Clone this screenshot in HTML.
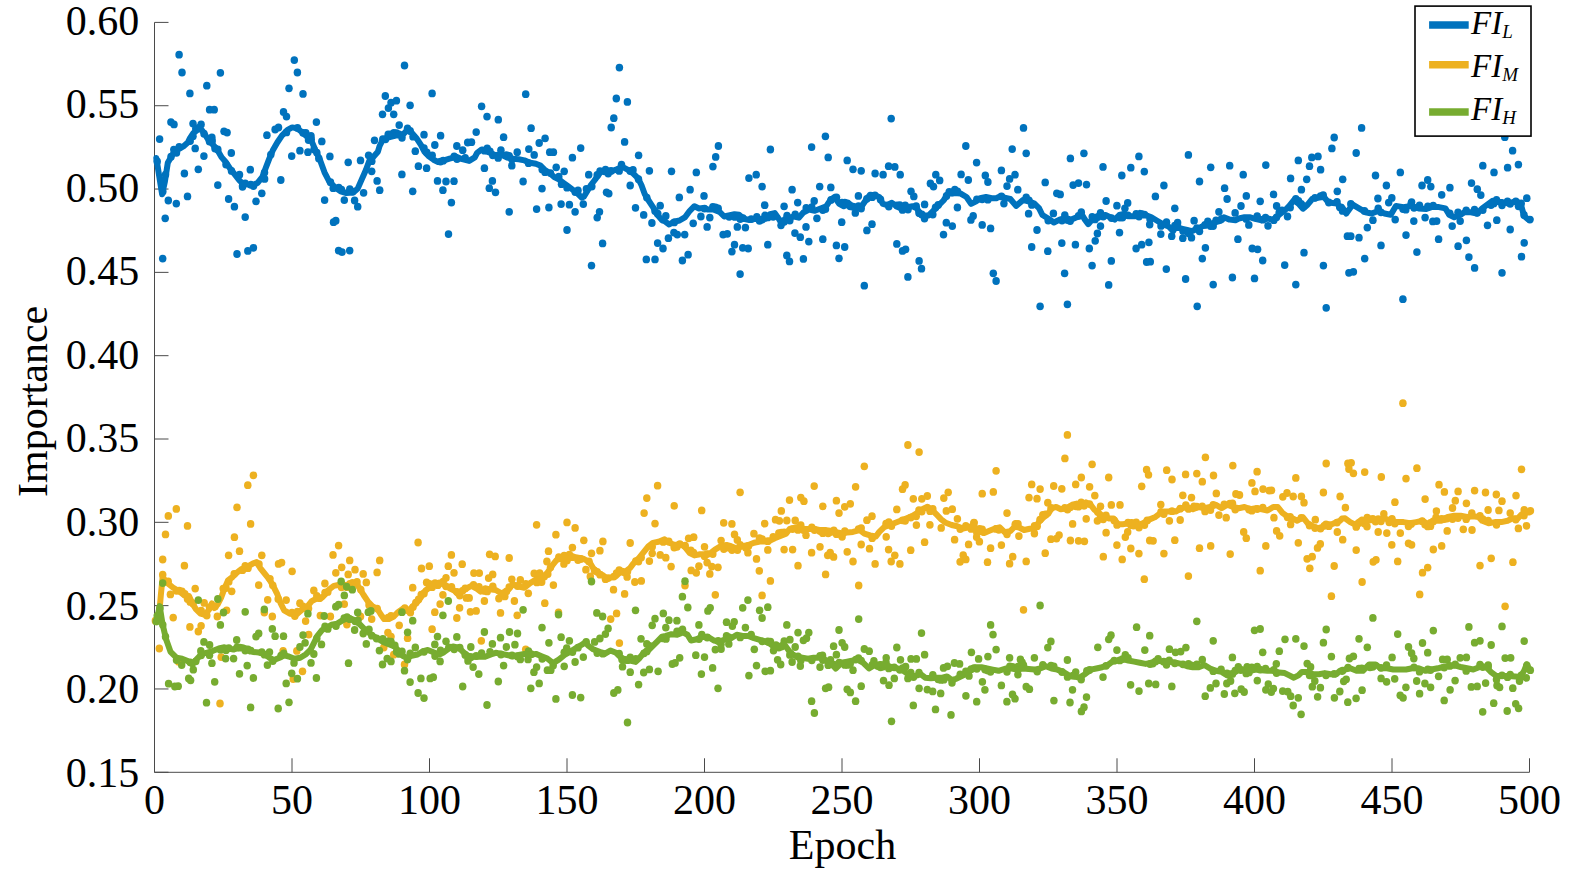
<!DOCTYPE html>
<html><head><meta charset="utf-8"><title>Importance vs Epoch</title>
<style>
html,body{margin:0;padding:0;background:#fff;}
svg{display:block;}
.lbl text{font-family:"Liberation Serif",serif;font-size:42px;fill:#000;}
.lg{font-family:"Liberation Serif",serif;font-style:italic;font-size:33px;fill:#000;}
.sub{font-size:19px;}
</style></head><body>
<svg width="1575" height="872" viewBox="0 0 1575 872">
<rect width="1575" height="872" fill="#fff"/>
<path d="M154.5,22.4 V772.3 H1529.5" fill="none" stroke="#4a4a4a" stroke-width="1" />
<path d="M154.50,772.28 v-14 M292.00,772.28 v-14 M429.50,772.28 v-14 M567.00,772.28 v-14 M704.50,772.28 v-14 M842.00,772.28 v-14 M979.50,772.28 v-14 M1117.00,772.28 v-14 M1254.50,772.28 v-14 M1392.00,772.28 v-14 M1529.50,772.28 v-14 M154.50,772.28 h14 M154.50,688.96 h14 M154.50,605.64 h14 M154.50,522.32 h14 M154.50,439.00 h14 M154.50,355.68 h14 M154.50,272.36 h14 M154.50,189.04 h14 M154.50,105.72 h14 M154.50,22.40 h14" stroke="#4a4a4a" stroke-width="1" fill="none"/>
<g fill="#0072BD"><ellipse cx="179.1" cy="54.7" rx="3.75" ry="3.9"/><ellipse cx="182.0" cy="72.5" rx="3.75" ry="3.9"/><ellipse cx="189.9" cy="93.4" rx="3.75" ry="3.9"/><ellipse cx="206.8" cy="85.7" rx="3.75" ry="3.9"/><ellipse cx="220.4" cy="72.8" rx="3.75" ry="3.9"/><ellipse cx="209.6" cy="109.7" rx="3.75" ry="3.9"/><ellipse cx="214.2" cy="109.7" rx="3.75" ry="3.9"/><ellipse cx="170.9" cy="122.1" rx="3.75" ry="3.9"/><ellipse cx="174.0" cy="124.4" rx="3.75" ry="3.9"/><ellipse cx="159.6" cy="139.1" rx="3.75" ry="3.9"/><ellipse cx="193.0" cy="123.6" rx="3.75" ry="3.9"/><ellipse cx="201.1" cy="124.4" rx="3.75" ry="3.9"/><ellipse cx="195.2" cy="148.4" rx="3.75" ry="3.9"/><ellipse cx="203.9" cy="156.1" rx="3.75" ry="3.9"/><ellipse cx="198.3" cy="169.3" rx="3.75" ry="3.9"/><ellipse cx="184.4" cy="173.5" rx="3.75" ry="3.9"/><ellipse cx="211.9" cy="137.5" rx="3.75" ry="3.9"/><ellipse cx="224.0" cy="131.3" rx="3.75" ry="3.9"/><ellipse cx="227.1" cy="132.6" rx="3.75" ry="3.9"/><ellipse cx="231.3" cy="153.0" rx="3.75" ry="3.9"/><ellipse cx="250.3" cy="169.7" rx="3.75" ry="3.9"/><ellipse cx="239.5" cy="174.7" rx="3.75" ry="3.9"/><ellipse cx="294.3" cy="60.1" rx="3.75" ry="3.9"/><ellipse cx="297.4" cy="72.5" rx="3.75" ry="3.9"/><ellipse cx="289.0" cy="88.3" rx="3.75" ry="3.9"/><ellipse cx="303.0" cy="93.9" rx="3.75" ry="3.9"/><ellipse cx="283.5" cy="112.0" rx="3.75" ry="3.9"/><ellipse cx="286.5" cy="116.6" rx="3.75" ry="3.9"/><ellipse cx="316.4" cy="122.1" rx="3.75" ry="3.9"/><ellipse cx="275.1" cy="129.5" rx="3.75" ry="3.9"/><ellipse cx="278.5" cy="127.5" rx="3.75" ry="3.9"/><ellipse cx="266.9" cy="135.2" rx="3.75" ry="3.9"/><ellipse cx="311.0" cy="136.0" rx="3.75" ry="3.9"/><ellipse cx="321.8" cy="141.4" rx="3.75" ry="3.9"/><ellipse cx="291.7" cy="156.1" rx="3.75" ry="3.9"/><ellipse cx="299.9" cy="150.7" rx="3.75" ry="3.9"/><ellipse cx="307.9" cy="152.2" rx="3.75" ry="3.9"/><ellipse cx="318.8" cy="158.4" rx="3.75" ry="3.9"/><ellipse cx="329.9" cy="156.4" rx="3.75" ry="3.9"/><ellipse cx="348.2" cy="162.3" rx="3.75" ry="3.9"/><ellipse cx="270.8" cy="154.6" rx="3.75" ry="3.9"/><ellipse cx="217.8" cy="185.1" rx="3.75" ry="3.9"/><ellipse cx="280.8" cy="180.0" rx="3.75" ry="3.9"/><ellipse cx="264.6" cy="178.9" rx="3.75" ry="3.9"/><ellipse cx="168.3" cy="200.5" rx="3.75" ry="3.9"/><ellipse cx="176.3" cy="203.6" rx="3.75" ry="3.9"/><ellipse cx="187.5" cy="196.4" rx="3.75" ry="3.9"/><ellipse cx="165.2" cy="218.3" rx="3.75" ry="3.9"/><ellipse cx="228.6" cy="199.0" rx="3.75" ry="3.9"/><ellipse cx="234.4" cy="206.7" rx="3.75" ry="3.9"/><ellipse cx="245.2" cy="217.1" rx="3.75" ry="3.9"/><ellipse cx="256.0" cy="201.3" rx="3.75" ry="3.9"/><ellipse cx="261.8" cy="193.3" rx="3.75" ry="3.9"/><ellipse cx="324.6" cy="200.1" rx="3.75" ry="3.9"/><ellipse cx="344.3" cy="200.1" rx="3.75" ry="3.9"/><ellipse cx="333.5" cy="222.2" rx="3.75" ry="3.9"/><ellipse cx="335.8" cy="220.7" rx="3.75" ry="3.9"/><ellipse cx="162.7" cy="258.6" rx="3.75" ry="3.9"/><ellipse cx="237.0" cy="254.0" rx="3.75" ry="3.9"/><ellipse cx="247.8" cy="250.9" rx="3.75" ry="3.9"/><ellipse cx="253.4" cy="247.8" rx="3.75" ry="3.9"/><ellipse cx="338.6" cy="250.6" rx="3.75" ry="3.9"/><ellipse cx="342.0" cy="252.1" rx="3.75" ry="3.9"/><ellipse cx="349.7" cy="250.6" rx="3.75" ry="3.9"/><ellipse cx="242.6" cy="185.5" rx="3.75" ry="3.9"/><ellipse cx="404.5" cy="65.5" rx="3.75" ry="3.9"/><ellipse cx="432.1" cy="93.4" rx="3.75" ry="3.9"/><ellipse cx="525.7" cy="94.2" rx="3.75" ry="3.9"/><ellipse cx="385.3" cy="96.0" rx="3.75" ry="3.9"/><ellipse cx="391.0" cy="102.7" rx="3.75" ry="3.9"/><ellipse cx="396.4" cy="100.7" rx="3.75" ry="3.9"/><ellipse cx="388.4" cy="108.1" rx="3.75" ry="3.9"/><ellipse cx="382.5" cy="114.3" rx="3.75" ry="3.9"/><ellipse cx="393.7" cy="114.3" rx="3.75" ry="3.9"/><ellipse cx="410.1" cy="105.3" rx="3.75" ry="3.9"/><ellipse cx="481.6" cy="106.3" rx="3.75" ry="3.9"/><ellipse cx="487.0" cy="116.6" rx="3.75" ry="3.9"/><ellipse cx="498.3" cy="119.7" rx="3.75" ry="3.9"/><ellipse cx="399.2" cy="125.1" rx="3.75" ry="3.9"/><ellipse cx="531.1" cy="128.2" rx="3.75" ry="3.9"/><ellipse cx="424.0" cy="134.7" rx="3.75" ry="3.9"/><ellipse cx="440.6" cy="135.7" rx="3.75" ry="3.9"/><ellipse cx="476.2" cy="132.1" rx="3.75" ry="3.9"/><ellipse cx="503.6" cy="137.2" rx="3.75" ry="3.9"/><ellipse cx="374.5" cy="140.3" rx="3.75" ry="3.9"/><ellipse cx="434.8" cy="145.0" rx="3.75" ry="3.9"/><ellipse cx="456.8" cy="146.0" rx="3.75" ry="3.9"/><ellipse cx="462.7" cy="150.2" rx="3.75" ry="3.9"/><ellipse cx="467.7" cy="142.5" rx="3.75" ry="3.9"/><ellipse cx="471.5" cy="142.2" rx="3.75" ry="3.9"/><ellipse cx="545.1" cy="138.3" rx="3.75" ry="3.9"/><ellipse cx="539.2" cy="143.0" rx="3.75" ry="3.9"/><ellipse cx="528.8" cy="149.1" rx="3.75" ry="3.9"/><ellipse cx="534.2" cy="154.9" rx="3.75" ry="3.9"/><ellipse cx="415.3" cy="151.2" rx="3.75" ry="3.9"/><ellipse cx="500.9" cy="150.2" rx="3.75" ry="3.9"/><ellipse cx="517.2" cy="152.2" rx="3.75" ry="3.9"/><ellipse cx="360.5" cy="160.4" rx="3.75" ry="3.9"/><ellipse cx="368.6" cy="155.3" rx="3.75" ry="3.9"/><ellipse cx="418.4" cy="166.2" rx="3.75" ry="3.9"/><ellipse cx="426.6" cy="168.2" rx="3.75" ry="3.9"/><ellipse cx="484.4" cy="168.2" rx="3.75" ry="3.9"/><ellipse cx="511.8" cy="165.7" rx="3.75" ry="3.9"/><ellipse cx="371.7" cy="171.3" rx="3.75" ry="3.9"/><ellipse cx="401.9" cy="174.4" rx="3.75" ry="3.9"/><ellipse cx="549.7" cy="152.2" rx="3.75" ry="3.9"/><ellipse cx="377.1" cy="180.9" rx="3.75" ry="3.9"/><ellipse cx="379.7" cy="190.2" rx="3.75" ry="3.9"/><ellipse cx="363.6" cy="192.8" rx="3.75" ry="3.9"/><ellipse cx="354.6" cy="200.5" rx="3.75" ry="3.9"/><ellipse cx="357.7" cy="206.7" rx="3.75" ry="3.9"/><ellipse cx="412.7" cy="191.3" rx="3.75" ry="3.9"/><ellipse cx="437.5" cy="180.9" rx="3.75" ry="3.9"/><ellipse cx="446.0" cy="181.5" rx="3.75" ry="3.9"/><ellipse cx="454.0" cy="181.2" rx="3.75" ry="3.9"/><ellipse cx="442.9" cy="190.2" rx="3.75" ry="3.9"/><ellipse cx="451.4" cy="202.6" rx="3.75" ry="3.9"/><ellipse cx="492.4" cy="180.9" rx="3.75" ry="3.9"/><ellipse cx="489.3" cy="188.2" rx="3.75" ry="3.9"/><ellipse cx="495.5" cy="192.3" rx="3.75" ry="3.9"/><ellipse cx="523.1" cy="181.5" rx="3.75" ry="3.9"/><ellipse cx="542.0" cy="188.6" rx="3.75" ry="3.9"/><ellipse cx="509.2" cy="211.8" rx="3.75" ry="3.9"/><ellipse cx="536.6" cy="209.1" rx="3.75" ry="3.9"/><ellipse cx="548.9" cy="207.5" rx="3.75" ry="3.9"/><ellipse cx="448.5" cy="234.1" rx="3.75" ry="3.9"/><ellipse cx="619.4" cy="67.6" rx="3.75" ry="3.9"/><ellipse cx="616.3" cy="98.5" rx="3.75" ry="3.9"/><ellipse cx="627.4" cy="101.9" rx="3.75" ry="3.9"/><ellipse cx="613.8" cy="118.2" rx="3.75" ry="3.9"/><ellipse cx="611.2" cy="127.5" rx="3.75" ry="3.9"/><ellipse cx="624.6" cy="141.9" rx="3.75" ry="3.9"/><ellipse cx="580.7" cy="148.1" rx="3.75" ry="3.9"/><ellipse cx="553.4" cy="152.2" rx="3.75" ry="3.9"/><ellipse cx="572.4" cy="157.7" rx="3.75" ry="3.9"/><ellipse cx="556.2" cy="167.3" rx="3.75" ry="3.9"/><ellipse cx="564.2" cy="171.3" rx="3.75" ry="3.9"/><ellipse cx="638.6" cy="155.3" rx="3.75" ry="3.9"/><ellipse cx="718.4" cy="146.0" rx="3.75" ry="3.9"/><ellipse cx="715.7" cy="156.9" rx="3.75" ry="3.9"/><ellipse cx="712.9" cy="166.6" rx="3.75" ry="3.9"/><ellipse cx="649.4" cy="170.8" rx="3.75" ry="3.9"/><ellipse cx="671.5" cy="171.3" rx="3.75" ry="3.9"/><ellipse cx="696.3" cy="172.4" rx="3.75" ry="3.9"/><ellipse cx="621.5" cy="164.6" rx="3.75" ry="3.9"/><ellipse cx="604.5" cy="171.3" rx="3.75" ry="3.9"/><ellipse cx="588.7" cy="174.7" rx="3.75" ry="3.9"/><ellipse cx="561.1" cy="204.1" rx="3.75" ry="3.9"/><ellipse cx="569.4" cy="204.7" rx="3.75" ry="3.9"/><ellipse cx="575.1" cy="211.8" rx="3.75" ry="3.9"/><ellipse cx="583.3" cy="204.1" rx="3.75" ry="3.9"/><ellipse cx="586.4" cy="188.9" rx="3.75" ry="3.9"/><ellipse cx="606.5" cy="192.3" rx="3.75" ry="3.9"/><ellipse cx="608.8" cy="193.6" rx="3.75" ry="3.9"/><ellipse cx="599.5" cy="211.8" rx="3.75" ry="3.9"/><ellipse cx="597.2" cy="217.6" rx="3.75" ry="3.9"/><ellipse cx="567.0" cy="230.0" rx="3.75" ry="3.9"/><ellipse cx="602.6" cy="243.4" rx="3.75" ry="3.9"/><ellipse cx="591.5" cy="265.6" rx="3.75" ry="3.9"/><ellipse cx="630.2" cy="185.5" rx="3.75" ry="3.9"/><ellipse cx="635.5" cy="207.8" rx="3.75" ry="3.9"/><ellipse cx="643.7" cy="214.9" rx="3.75" ry="3.9"/><ellipse cx="651.9" cy="223.0" rx="3.75" ry="3.9"/><ellipse cx="660.2" cy="205.7" rx="3.75" ry="3.9"/><ellipse cx="665.8" cy="216.0" rx="3.75" ry="3.9"/><ellipse cx="679.3" cy="197.4" rx="3.75" ry="3.9"/><ellipse cx="690.1" cy="189.7" rx="3.75" ry="3.9"/><ellipse cx="704.0" cy="195.9" rx="3.75" ry="3.9"/><ellipse cx="693.2" cy="223.3" rx="3.75" ry="3.9"/><ellipse cx="707.1" cy="226.9" rx="3.75" ry="3.9"/><ellipse cx="709.8" cy="217.6" rx="3.75" ry="3.9"/><ellipse cx="700.9" cy="216.5" rx="3.75" ry="3.9"/><ellipse cx="673.9" cy="232.6" rx="3.75" ry="3.9"/><ellipse cx="677.3" cy="234.6" rx="3.75" ry="3.9"/><ellipse cx="684.7" cy="234.6" rx="3.75" ry="3.9"/><ellipse cx="668.4" cy="238.2" rx="3.75" ry="3.9"/><ellipse cx="657.6" cy="243.1" rx="3.75" ry="3.9"/><ellipse cx="663.0" cy="248.5" rx="3.75" ry="3.9"/><ellipse cx="646.3" cy="259.4" rx="3.75" ry="3.9"/><ellipse cx="655.0" cy="259.4" rx="3.75" ry="3.9"/><ellipse cx="682.4" cy="260.5" rx="3.75" ry="3.9"/><ellipse cx="688.1" cy="254.7" rx="3.75" ry="3.9"/><ellipse cx="723.1" cy="234.6" rx="3.75" ry="3.9"/><ellipse cx="727.3" cy="233.8" rx="3.75" ry="3.9"/><ellipse cx="737.3" cy="226.9" rx="3.75" ry="3.9"/><ellipse cx="745.4" cy="227.6" rx="3.75" ry="3.9"/><ellipse cx="734.5" cy="244.7" rx="3.75" ry="3.9"/><ellipse cx="731.9" cy="251.6" rx="3.75" ry="3.9"/><ellipse cx="742.7" cy="247.8" rx="3.75" ry="3.9"/><ellipse cx="748.2" cy="248.5" rx="3.75" ry="3.9"/><ellipse cx="740.1" cy="274.1" rx="3.75" ry="3.9"/><ellipse cx="748.9" cy="178.1" rx="3.75" ry="3.9"/><ellipse cx="891.2" cy="118.6" rx="3.75" ry="3.9"/><ellipse cx="825.4" cy="136.3" rx="3.75" ry="3.9"/><ellipse cx="770.4" cy="149.5" rx="3.75" ry="3.9"/><ellipse cx="811.6" cy="147.1" rx="3.75" ry="3.9"/><ellipse cx="828.2" cy="157.4" rx="3.75" ry="3.9"/><ellipse cx="847.2" cy="160.4" rx="3.75" ry="3.9"/><ellipse cx="853.0" cy="169.3" rx="3.75" ry="3.9"/><ellipse cx="861.2" cy="170.8" rx="3.75" ry="3.9"/><ellipse cx="888.6" cy="166.2" rx="3.75" ry="3.9"/><ellipse cx="894.8" cy="166.9" rx="3.75" ry="3.9"/><ellipse cx="875.1" cy="173.5" rx="3.75" ry="3.9"/><ellipse cx="883.1" cy="174.7" rx="3.75" ry="3.9"/><ellipse cx="756.2" cy="174.7" rx="3.75" ry="3.9"/><ellipse cx="935.8" cy="174.7" rx="3.75" ry="3.9"/><ellipse cx="900.2" cy="174.7" rx="3.75" ry="3.9"/><ellipse cx="762.1" cy="186.6" rx="3.75" ry="3.9"/><ellipse cx="792.1" cy="189.7" rx="3.75" ry="3.9"/><ellipse cx="819.7" cy="186.6" rx="3.75" ry="3.9"/><ellipse cx="830.8" cy="187.4" rx="3.75" ry="3.9"/><ellipse cx="930.4" cy="183.5" rx="3.75" ry="3.9"/><ellipse cx="939.7" cy="180.4" rx="3.75" ry="3.9"/><ellipse cx="933.5" cy="186.6" rx="3.75" ry="3.9"/><ellipse cx="911.0" cy="191.3" rx="3.75" ry="3.9"/><ellipse cx="913.8" cy="196.4" rx="3.75" ry="3.9"/><ellipse cx="858.4" cy="195.9" rx="3.75" ry="3.9"/><ellipse cx="764.7" cy="205.2" rx="3.75" ry="3.9"/><ellipse cx="784.1" cy="206.3" rx="3.75" ry="3.9"/><ellipse cx="797.7" cy="202.6" rx="3.75" ry="3.9"/><ellipse cx="814.2" cy="201.0" rx="3.75" ry="3.9"/><ellipse cx="924.6" cy="204.4" rx="3.75" ry="3.9"/><ellipse cx="816.9" cy="218.3" rx="3.75" ry="3.9"/><ellipse cx="781.0" cy="225.3" rx="3.75" ry="3.9"/><ellipse cx="806.0" cy="226.9" rx="3.75" ry="3.9"/><ellipse cx="841.7" cy="222.2" rx="3.75" ry="3.9"/><ellipse cx="872.0" cy="224.2" rx="3.75" ry="3.9"/><ellipse cx="866.9" cy="230.4" rx="3.75" ry="3.9"/><ellipse cx="946.3" cy="222.7" rx="3.75" ry="3.9"/><ellipse cx="943.5" cy="234.6" rx="3.75" ry="3.9"/><ellipse cx="794.9" cy="233.1" rx="3.75" ry="3.9"/><ellipse cx="800.3" cy="237.2" rx="3.75" ry="3.9"/><ellipse cx="808.8" cy="241.6" rx="3.75" ry="3.9"/><ellipse cx="822.8" cy="239.2" rx="3.75" ry="3.9"/><ellipse cx="767.8" cy="244.7" rx="3.75" ry="3.9"/><ellipse cx="836.4" cy="245.4" rx="3.75" ry="3.9"/><ellipse cx="844.7" cy="247.0" rx="3.75" ry="3.9"/><ellipse cx="896.8" cy="243.9" rx="3.75" ry="3.9"/><ellipse cx="902.5" cy="250.9" rx="3.75" ry="3.9"/><ellipse cx="905.6" cy="249.3" rx="3.75" ry="3.9"/><ellipse cx="786.8" cy="255.5" rx="3.75" ry="3.9"/><ellipse cx="789.5" cy="261.4" rx="3.75" ry="3.9"/><ellipse cx="803.4" cy="258.9" rx="3.75" ry="3.9"/><ellipse cx="839.0" cy="258.3" rx="3.75" ry="3.9"/><ellipse cx="919.1" cy="260.9" rx="3.75" ry="3.9"/><ellipse cx="921.5" cy="268.7" rx="3.75" ry="3.9"/><ellipse cx="907.9" cy="276.9" rx="3.75" ry="3.9"/><ellipse cx="864.3" cy="285.7" rx="3.75" ry="3.9"/><ellipse cx="855.3" cy="212.9" rx="3.75" ry="3.9"/><ellipse cx="1023.5" cy="127.9" rx="3.75" ry="3.9"/><ellipse cx="965.8" cy="146.0" rx="3.75" ry="3.9"/><ellipse cx="1012.2" cy="149.1" rx="3.75" ry="3.9"/><ellipse cx="1026.2" cy="153.3" rx="3.75" ry="3.9"/><ellipse cx="976.6" cy="162.6" rx="3.75" ry="3.9"/><ellipse cx="1001.4" cy="170.4" rx="3.75" ry="3.9"/><ellipse cx="961.1" cy="174.4" rx="3.75" ry="3.9"/><ellipse cx="1015.0" cy="174.7" rx="3.75" ry="3.9"/><ellipse cx="1070.4" cy="158.4" rx="3.75" ry="3.9"/><ellipse cx="1083.9" cy="153.3" rx="3.75" ry="3.9"/><ellipse cx="1103.0" cy="166.9" rx="3.75" ry="3.9"/><ellipse cx="1138.9" cy="156.4" rx="3.75" ry="3.9"/><ellipse cx="1130.8" cy="167.7" rx="3.75" ry="3.9"/><ellipse cx="1144.3" cy="171.6" rx="3.75" ry="3.9"/><ellipse cx="985.3" cy="175.5" rx="3.75" ry="3.9"/><ellipse cx="1121.8" cy="175.5" rx="3.75" ry="3.9"/><ellipse cx="968.3" cy="180.0" rx="3.75" ry="3.9"/><ellipse cx="987.9" cy="182.0" rx="3.75" ry="3.9"/><ellipse cx="1009.6" cy="178.9" rx="3.75" ry="3.9"/><ellipse cx="1007.0" cy="186.1" rx="3.75" ry="3.9"/><ellipse cx="1017.8" cy="189.7" rx="3.75" ry="3.9"/><ellipse cx="1045.2" cy="182.4" rx="3.75" ry="3.9"/><ellipse cx="1073.1" cy="185.1" rx="3.75" ry="3.9"/><ellipse cx="1078.5" cy="183.1" rx="3.75" ry="3.9"/><ellipse cx="1086.5" cy="184.6" rx="3.75" ry="3.9"/><ellipse cx="1056.8" cy="193.3" rx="3.75" ry="3.9"/><ellipse cx="1060.2" cy="194.4" rx="3.75" ry="3.9"/><ellipse cx="1106.1" cy="201.0" rx="3.75" ry="3.9"/><ellipse cx="1116.9" cy="205.7" rx="3.75" ry="3.9"/><ellipse cx="1127.7" cy="202.9" rx="3.75" ry="3.9"/><ellipse cx="1124.9" cy="208.3" rx="3.75" ry="3.9"/><ellipse cx="957.4" cy="207.5" rx="3.75" ry="3.9"/><ellipse cx="1028.6" cy="213.7" rx="3.75" ry="3.9"/><ellipse cx="973.2" cy="216.0" rx="3.75" ry="3.9"/><ellipse cx="970.9" cy="219.9" rx="3.75" ry="3.9"/><ellipse cx="982.2" cy="224.9" rx="3.75" ry="3.9"/><ellipse cx="990.6" cy="228.4" rx="3.75" ry="3.9"/><ellipse cx="952.3" cy="226.1" rx="3.75" ry="3.9"/><ellipse cx="1037.0" cy="230.0" rx="3.75" ry="3.9"/><ellipse cx="1100.5" cy="226.1" rx="3.75" ry="3.9"/><ellipse cx="1097.4" cy="233.5" rx="3.75" ry="3.9"/><ellipse cx="1095.2" cy="240.8" rx="3.75" ry="3.9"/><ellipse cx="1119.5" cy="232.6" rx="3.75" ry="3.9"/><ellipse cx="1149.7" cy="224.5" rx="3.75" ry="3.9"/><ellipse cx="1031.7" cy="247.0" rx="3.75" ry="3.9"/><ellipse cx="1047.8" cy="251.2" rx="3.75" ry="3.9"/><ellipse cx="1061.8" cy="243.1" rx="3.75" ry="3.9"/><ellipse cx="1075.4" cy="244.7" rx="3.75" ry="3.9"/><ellipse cx="1089.3" cy="248.5" rx="3.75" ry="3.9"/><ellipse cx="1141.7" cy="244.7" rx="3.75" ry="3.9"/><ellipse cx="1136.1" cy="248.5" rx="3.75" ry="3.9"/><ellipse cx="1148.9" cy="242.3" rx="3.75" ry="3.9"/><ellipse cx="1111.3" cy="260.9" rx="3.75" ry="3.9"/><ellipse cx="1146.6" cy="262.0" rx="3.75" ry="3.9"/><ellipse cx="1092.1" cy="265.6" rx="3.75" ry="3.9"/><ellipse cx="1064.6" cy="273.3" rx="3.75" ry="3.9"/><ellipse cx="993.3" cy="273.3" rx="3.75" ry="3.9"/><ellipse cx="996.1" cy="281.0" rx="3.75" ry="3.9"/><ellipse cx="1108.7" cy="284.9" rx="3.75" ry="3.9"/><ellipse cx="1040.1" cy="306.3" rx="3.75" ry="3.9"/><ellipse cx="1067.4" cy="304.3" rx="3.75" ry="3.9"/><ellipse cx="1003.9" cy="203.6" rx="3.75" ry="3.9"/><ellipse cx="1053.4" cy="213.4" rx="3.75" ry="3.9"/><ellipse cx="1081.3" cy="212.2" rx="3.75" ry="3.9"/><ellipse cx="1188.4" cy="154.9" rx="3.75" ry="3.9"/><ellipse cx="1210.7" cy="167.3" rx="3.75" ry="3.9"/><ellipse cx="1229.7" cy="165.7" rx="3.75" ry="3.9"/><ellipse cx="1265.8" cy="165.1" rx="3.75" ry="3.9"/><ellipse cx="1243.2" cy="174.7" rx="3.75" ry="3.9"/><ellipse cx="1298.3" cy="160.4" rx="3.75" ry="3.9"/><ellipse cx="1311.8" cy="157.4" rx="3.75" ry="3.9"/><ellipse cx="1318.0" cy="156.4" rx="3.75" ry="3.9"/><ellipse cx="1309.5" cy="166.2" rx="3.75" ry="3.9"/><ellipse cx="1320.6" cy="169.7" rx="3.75" ry="3.9"/><ellipse cx="1331.9" cy="148.4" rx="3.75" ry="3.9"/><ellipse cx="1334.2" cy="137.5" rx="3.75" ry="3.9"/><ellipse cx="1163.9" cy="185.5" rx="3.75" ry="3.9"/><ellipse cx="1155.4" cy="196.4" rx="3.75" ry="3.9"/><ellipse cx="1199.5" cy="181.5" rx="3.75" ry="3.9"/><ellipse cx="1224.6" cy="188.2" rx="3.75" ry="3.9"/><ellipse cx="1227.1" cy="199.0" rx="3.75" ry="3.9"/><ellipse cx="1246.3" cy="195.9" rx="3.75" ry="3.9"/><ellipse cx="1241.0" cy="206.0" rx="3.75" ry="3.9"/><ellipse cx="1260.2" cy="201.3" rx="3.75" ry="3.9"/><ellipse cx="1273.5" cy="194.4" rx="3.75" ry="3.9"/><ellipse cx="1276.6" cy="206.0" rx="3.75" ry="3.9"/><ellipse cx="1290.6" cy="178.4" rx="3.75" ry="3.9"/><ellipse cx="1306.7" cy="179.3" rx="3.75" ry="3.9"/><ellipse cx="1301.4" cy="189.7" rx="3.75" ry="3.9"/><ellipse cx="1337.3" cy="191.3" rx="3.75" ry="3.9"/><ellipse cx="1342.7" cy="179.3" rx="3.75" ry="3.9"/><ellipse cx="1174.8" cy="208.3" rx="3.75" ry="3.9"/><ellipse cx="1218.9" cy="211.8" rx="3.75" ry="3.9"/><ellipse cx="1235.1" cy="212.9" rx="3.75" ry="3.9"/><ellipse cx="1194.1" cy="220.7" rx="3.75" ry="3.9"/><ellipse cx="1177.6" cy="222.7" rx="3.75" ry="3.9"/><ellipse cx="1287.5" cy="216.5" rx="3.75" ry="3.9"/><ellipse cx="1160.8" cy="234.1" rx="3.75" ry="3.9"/><ellipse cx="1171.7" cy="236.2" rx="3.75" ry="3.9"/><ellipse cx="1182.8" cy="238.2" rx="3.75" ry="3.9"/><ellipse cx="1191.5" cy="237.7" rx="3.75" ry="3.9"/><ellipse cx="1237.9" cy="239.2" rx="3.75" ry="3.9"/><ellipse cx="1248.8" cy="224.9" rx="3.75" ry="3.9"/><ellipse cx="1268.0" cy="225.8" rx="3.75" ry="3.9"/><ellipse cx="1347.4" cy="236.2" rx="3.75" ry="3.9"/><ellipse cx="1205.4" cy="247.8" rx="3.75" ry="3.9"/><ellipse cx="1202.3" cy="258.6" rx="3.75" ry="3.9"/><ellipse cx="1252.2" cy="248.5" rx="3.75" ry="3.9"/><ellipse cx="1257.6" cy="249.3" rx="3.75" ry="3.9"/><ellipse cx="1262.7" cy="260.5" rx="3.75" ry="3.9"/><ellipse cx="1304.0" cy="252.7" rx="3.75" ry="3.9"/><ellipse cx="1284.7" cy="265.1" rx="3.75" ry="3.9"/><ellipse cx="1323.4" cy="265.6" rx="3.75" ry="3.9"/><ellipse cx="1348.9" cy="272.8" rx="3.75" ry="3.9"/><ellipse cx="1166.3" cy="269.1" rx="3.75" ry="3.9"/><ellipse cx="1185.6" cy="279.0" rx="3.75" ry="3.9"/><ellipse cx="1213.2" cy="284.6" rx="3.75" ry="3.9"/><ellipse cx="1232.4" cy="277.5" rx="3.75" ry="3.9"/><ellipse cx="1254.5" cy="278.4" rx="3.75" ry="3.9"/><ellipse cx="1295.8" cy="284.6" rx="3.75" ry="3.9"/><ellipse cx="1197.2" cy="306.3" rx="3.75" ry="3.9"/><ellipse cx="1326.2" cy="307.8" rx="3.75" ry="3.9"/><ellipse cx="1150.3" cy="261.7" rx="3.75" ry="3.9"/><ellipse cx="1361.6" cy="127.9" rx="3.75" ry="3.9"/><ellipse cx="1356.2" cy="153.0" rx="3.75" ry="3.9"/><ellipse cx="1400.3" cy="172.4" rx="3.75" ry="3.9"/><ellipse cx="1504.8" cy="137.2" rx="3.75" ry="3.9"/><ellipse cx="1512.6" cy="150.7" rx="3.75" ry="3.9"/><ellipse cx="1482.8" cy="165.7" rx="3.75" ry="3.9"/><ellipse cx="1494.0" cy="172.4" rx="3.75" ry="3.9"/><ellipse cx="1507.6" cy="167.7" rx="3.75" ry="3.9"/><ellipse cx="1518.4" cy="164.6" rx="3.75" ry="3.9"/><ellipse cx="1375.5" cy="175.5" rx="3.75" ry="3.9"/><ellipse cx="1386.4" cy="185.5" rx="3.75" ry="3.9"/><ellipse cx="1422.0" cy="185.5" rx="3.75" ry="3.9"/><ellipse cx="1427.7" cy="180.0" rx="3.75" ry="3.9"/><ellipse cx="1430.8" cy="186.6" rx="3.75" ry="3.9"/><ellipse cx="1449.9" cy="187.7" rx="3.75" ry="3.9"/><ellipse cx="1441.7" cy="194.8" rx="3.75" ry="3.9"/><ellipse cx="1471.5" cy="183.1" rx="3.75" ry="3.9"/><ellipse cx="1477.3" cy="189.2" rx="3.75" ry="3.9"/><ellipse cx="1480.8" cy="195.1" rx="3.75" ry="3.9"/><ellipse cx="1526.8" cy="198.2" rx="3.75" ry="3.9"/><ellipse cx="1377.9" cy="198.5" rx="3.75" ry="3.9"/><ellipse cx="1391.8" cy="197.9" rx="3.75" ry="3.9"/><ellipse cx="1388.7" cy="202.6" rx="3.75" ry="3.9"/><ellipse cx="1411.6" cy="202.1" rx="3.75" ry="3.9"/><ellipse cx="1372.9" cy="220.2" rx="3.75" ry="3.9"/><ellipse cx="1395.2" cy="219.6" rx="3.75" ry="3.9"/><ellipse cx="1413.8" cy="221.1" rx="3.75" ry="3.9"/><ellipse cx="1425.1" cy="217.6" rx="3.75" ry="3.9"/><ellipse cx="1432.8" cy="221.4" rx="3.75" ry="3.9"/><ellipse cx="1436.7" cy="221.1" rx="3.75" ry="3.9"/><ellipse cx="1460.2" cy="221.1" rx="3.75" ry="3.9"/><ellipse cx="1452.2" cy="226.1" rx="3.75" ry="3.9"/><ellipse cx="1487.5" cy="225.3" rx="3.75" ry="3.9"/><ellipse cx="1496.8" cy="220.2" rx="3.75" ry="3.9"/><ellipse cx="1510.2" cy="229.5" rx="3.75" ry="3.9"/><ellipse cx="1367.3" cy="227.6" rx="3.75" ry="3.9"/><ellipse cx="1350.8" cy="236.2" rx="3.75" ry="3.9"/><ellipse cx="1359.0" cy="237.7" rx="3.75" ry="3.9"/><ellipse cx="1406.0" cy="235.1" rx="3.75" ry="3.9"/><ellipse cx="1381.0" cy="245.4" rx="3.75" ry="3.9"/><ellipse cx="1438.6" cy="239.2" rx="3.75" ry="3.9"/><ellipse cx="1466.4" cy="240.3" rx="3.75" ry="3.9"/><ellipse cx="1458.1" cy="246.2" rx="3.75" ry="3.9"/><ellipse cx="1524.2" cy="242.8" rx="3.75" ry="3.9"/><ellipse cx="1416.9" cy="252.1" rx="3.75" ry="3.9"/><ellipse cx="1364.7" cy="258.6" rx="3.75" ry="3.9"/><ellipse cx="1468.9" cy="257.1" rx="3.75" ry="3.9"/><ellipse cx="1521.5" cy="256.7" rx="3.75" ry="3.9"/><ellipse cx="1474.6" cy="267.9" rx="3.75" ry="3.9"/><ellipse cx="1502.0" cy="272.8" rx="3.75" ry="3.9"/><ellipse cx="1353.4" cy="271.8" rx="3.75" ry="3.9"/><ellipse cx="1402.9" cy="299.2" rx="3.75" ry="3.9"/><ellipse cx="1529.9" cy="219.6" rx="3.75" ry="3.9"/><ellipse cx="157.2" cy="161.5" rx="3.75" ry="3.9"/><ellipse cx="162.8" cy="191.4" rx="3.75" ry="3.9"/><ellipse cx="165.5" cy="174.6" rx="3.75" ry="3.9"/><ellipse cx="171.0" cy="156.7" rx="3.75" ry="3.9"/><ellipse cx="173.8" cy="149.6" rx="3.75" ry="3.9"/><ellipse cx="176.5" cy="152.8" rx="3.75" ry="3.9"/><ellipse cx="179.2" cy="147.0" rx="3.75" ry="3.9"/><ellipse cx="190.2" cy="141.0" rx="3.75" ry="3.9"/><ellipse cx="193.0" cy="136.2" rx="3.75" ry="3.9"/><ellipse cx="195.8" cy="128.7" rx="3.75" ry="3.9"/><ellipse cx="198.5" cy="128.0" rx="3.75" ry="3.9"/><ellipse cx="204.0" cy="133.7" rx="3.75" ry="3.9"/><ellipse cx="209.5" cy="141.5" rx="3.75" ry="3.9"/><ellipse cx="212.2" cy="140.9" rx="3.75" ry="3.9"/><ellipse cx="215.0" cy="148.5" rx="3.75" ry="3.9"/><ellipse cx="217.8" cy="149.4" rx="3.75" ry="3.9"/><ellipse cx="226.0" cy="164.5" rx="3.75" ry="3.9"/><ellipse cx="231.5" cy="170.9" rx="3.75" ry="3.9"/><ellipse cx="242.5" cy="186.8" rx="3.75" ry="3.9"/><ellipse cx="245.2" cy="183.5" rx="3.75" ry="3.9"/><ellipse cx="250.8" cy="184.7" rx="3.75" ry="3.9"/><ellipse cx="253.5" cy="186.0" rx="3.75" ry="3.9"/><ellipse cx="264.5" cy="172.6" rx="3.75" ry="3.9"/><ellipse cx="286.5" cy="132.4" rx="3.75" ry="3.9"/><ellipse cx="297.5" cy="127.9" rx="3.75" ry="3.9"/><ellipse cx="303.0" cy="132.8" rx="3.75" ry="3.9"/><ellipse cx="305.8" cy="132.9" rx="3.75" ry="3.9"/><ellipse cx="308.5" cy="140.1" rx="3.75" ry="3.9"/><ellipse cx="311.2" cy="139.2" rx="3.75" ry="3.9"/><ellipse cx="314.0" cy="149.4" rx="3.75" ry="3.9"/><ellipse cx="316.8" cy="152.6" rx="3.75" ry="3.9"/><ellipse cx="330.5" cy="182.2" rx="3.75" ry="3.9"/><ellipse cx="333.2" cy="188.2" rx="3.75" ry="3.9"/><ellipse cx="338.8" cy="187.7" rx="3.75" ry="3.9"/><ellipse cx="341.5" cy="189.7" rx="3.75" ry="3.9"/><ellipse cx="349.8" cy="189.2" rx="3.75" ry="3.9"/><ellipse cx="352.5" cy="191.6" rx="3.75" ry="3.9"/><ellipse cx="371.8" cy="161.2" rx="3.75" ry="3.9"/><ellipse cx="382.8" cy="139.1" rx="3.75" ry="3.9"/><ellipse cx="385.5" cy="139.3" rx="3.75" ry="3.9"/><ellipse cx="388.2" cy="134.5" rx="3.75" ry="3.9"/><ellipse cx="391.0" cy="134.5" rx="3.75" ry="3.9"/><ellipse cx="393.8" cy="133.0" rx="3.75" ry="3.9"/><ellipse cx="396.5" cy="133.1" rx="3.75" ry="3.9"/><ellipse cx="399.2" cy="134.4" rx="3.75" ry="3.9"/><ellipse cx="402.0" cy="137.8" rx="3.75" ry="3.9"/><ellipse cx="407.5" cy="128.4" rx="3.75" ry="3.9"/><ellipse cx="410.2" cy="130.9" rx="3.75" ry="3.9"/><ellipse cx="413.0" cy="136.7" rx="3.75" ry="3.9"/><ellipse cx="424.0" cy="148.1" rx="3.75" ry="3.9"/><ellipse cx="426.8" cy="152.5" rx="3.75" ry="3.9"/><ellipse cx="432.2" cy="155.4" rx="3.75" ry="3.9"/><ellipse cx="440.5" cy="161.6" rx="3.75" ry="3.9"/><ellipse cx="443.2" cy="160.7" rx="3.75" ry="3.9"/><ellipse cx="454.2" cy="156.5" rx="3.75" ry="3.9"/><ellipse cx="457.0" cy="159.0" rx="3.75" ry="3.9"/><ellipse cx="465.2" cy="158.0" rx="3.75" ry="3.9"/><ellipse cx="484.5" cy="150.7" rx="3.75" ry="3.9"/><ellipse cx="487.2" cy="148.3" rx="3.75" ry="3.9"/><ellipse cx="490.0" cy="151.3" rx="3.75" ry="3.9"/><ellipse cx="492.8" cy="155.3" rx="3.75" ry="3.9"/><ellipse cx="498.2" cy="157.9" rx="3.75" ry="3.9"/><ellipse cx="506.5" cy="155.2" rx="3.75" ry="3.9"/><ellipse cx="509.2" cy="155.8" rx="3.75" ry="3.9"/><ellipse cx="512.0" cy="159.4" rx="3.75" ry="3.9"/><ellipse cx="528.5" cy="163.2" rx="3.75" ry="3.9"/><ellipse cx="542.2" cy="169.4" rx="3.75" ry="3.9"/><ellipse cx="545.0" cy="172.2" rx="3.75" ry="3.9"/><ellipse cx="550.5" cy="173.1" rx="3.75" ry="3.9"/><ellipse cx="558.8" cy="176.7" rx="3.75" ry="3.9"/><ellipse cx="561.5" cy="184.2" rx="3.75" ry="3.9"/><ellipse cx="567.0" cy="187.7" rx="3.75" ry="3.9"/><ellipse cx="575.2" cy="192.0" rx="3.75" ry="3.9"/><ellipse cx="578.0" cy="190.5" rx="3.75" ry="3.9"/><ellipse cx="591.8" cy="186.5" rx="3.75" ry="3.9"/><ellipse cx="597.2" cy="174.9" rx="3.75" ry="3.9"/><ellipse cx="600.0" cy="171.1" rx="3.75" ry="3.9"/><ellipse cx="605.5" cy="169.6" rx="3.75" ry="3.9"/><ellipse cx="608.2" cy="173.5" rx="3.75" ry="3.9"/><ellipse cx="611.0" cy="170.9" rx="3.75" ry="3.9"/><ellipse cx="619.2" cy="170.9" rx="3.75" ry="3.9"/><ellipse cx="630.2" cy="171.0" rx="3.75" ry="3.9"/><ellipse cx="633.0" cy="169.9" rx="3.75" ry="3.9"/><ellipse cx="638.5" cy="179.2" rx="3.75" ry="3.9"/><ellipse cx="646.8" cy="197.6" rx="3.75" ry="3.9"/><ellipse cx="655.0" cy="211.1" rx="3.75" ry="3.9"/><ellipse cx="657.8" cy="213.7" rx="3.75" ry="3.9"/><ellipse cx="674.2" cy="222.4" rx="3.75" ry="3.9"/><ellipse cx="704.5" cy="208.6" rx="3.75" ry="3.9"/><ellipse cx="712.8" cy="207.0" rx="3.75" ry="3.9"/><ellipse cx="715.5" cy="207.3" rx="3.75" ry="3.9"/><ellipse cx="718.2" cy="208.4" rx="3.75" ry="3.9"/><ellipse cx="729.2" cy="216.8" rx="3.75" ry="3.9"/><ellipse cx="734.8" cy="216.9" rx="3.75" ry="3.9"/><ellipse cx="740.2" cy="219.0" rx="3.75" ry="3.9"/><ellipse cx="743.0" cy="218.1" rx="3.75" ry="3.9"/><ellipse cx="751.2" cy="219.1" rx="3.75" ry="3.9"/><ellipse cx="756.8" cy="216.8" rx="3.75" ry="3.9"/><ellipse cx="759.5" cy="220.8" rx="3.75" ry="3.9"/><ellipse cx="762.2" cy="219.6" rx="3.75" ry="3.9"/><ellipse cx="765.0" cy="215.5" rx="3.75" ry="3.9"/><ellipse cx="767.8" cy="217.4" rx="3.75" ry="3.9"/><ellipse cx="773.2" cy="216.8" rx="3.75" ry="3.9"/><ellipse cx="781.5" cy="221.6" rx="3.75" ry="3.9"/><ellipse cx="784.2" cy="221.8" rx="3.75" ry="3.9"/><ellipse cx="787.0" cy="215.7" rx="3.75" ry="3.9"/><ellipse cx="789.8" cy="220.5" rx="3.75" ry="3.9"/><ellipse cx="795.2" cy="214.3" rx="3.75" ry="3.9"/><ellipse cx="806.2" cy="207.9" rx="3.75" ry="3.9"/><ellipse cx="811.8" cy="207.2" rx="3.75" ry="3.9"/><ellipse cx="822.8" cy="210.1" rx="3.75" ry="3.9"/><ellipse cx="825.5" cy="209.1" rx="3.75" ry="3.9"/><ellipse cx="831.0" cy="199.9" rx="3.75" ry="3.9"/><ellipse cx="836.5" cy="197.3" rx="3.75" ry="3.9"/><ellipse cx="842.0" cy="202.6" rx="3.75" ry="3.9"/><ellipse cx="844.8" cy="202.7" rx="3.75" ry="3.9"/><ellipse cx="847.5" cy="203.4" rx="3.75" ry="3.9"/><ellipse cx="850.2" cy="206.3" rx="3.75" ry="3.9"/><ellipse cx="853.0" cy="206.7" rx="3.75" ry="3.9"/><ellipse cx="855.8" cy="207.3" rx="3.75" ry="3.9"/><ellipse cx="858.5" cy="206.1" rx="3.75" ry="3.9"/><ellipse cx="861.2" cy="208.6" rx="3.75" ry="3.9"/><ellipse cx="866.8" cy="198.8" rx="3.75" ry="3.9"/><ellipse cx="872.2" cy="197.2" rx="3.75" ry="3.9"/><ellipse cx="875.0" cy="195.4" rx="3.75" ry="3.9"/><ellipse cx="880.5" cy="199.4" rx="3.75" ry="3.9"/><ellipse cx="888.8" cy="206.6" rx="3.75" ry="3.9"/><ellipse cx="897.0" cy="205.4" rx="3.75" ry="3.9"/><ellipse cx="899.8" cy="205.2" rx="3.75" ry="3.9"/><ellipse cx="902.5" cy="209.9" rx="3.75" ry="3.9"/><ellipse cx="905.2" cy="205.3" rx="3.75" ry="3.9"/><ellipse cx="908.0" cy="209.5" rx="3.75" ry="3.9"/><ellipse cx="916.2" cy="206.2" rx="3.75" ry="3.9"/><ellipse cx="919.0" cy="212.9" rx="3.75" ry="3.9"/><ellipse cx="921.8" cy="214.4" rx="3.75" ry="3.9"/><ellipse cx="924.5" cy="218.6" rx="3.75" ry="3.9"/><ellipse cx="932.8" cy="214.5" rx="3.75" ry="3.9"/><ellipse cx="935.5" cy="207.5" rx="3.75" ry="3.9"/><ellipse cx="938.2" cy="204.9" rx="3.75" ry="3.9"/><ellipse cx="946.5" cy="196.0" rx="3.75" ry="3.9"/><ellipse cx="949.2" cy="191.8" rx="3.75" ry="3.9"/><ellipse cx="952.0" cy="192.5" rx="3.75" ry="3.9"/><ellipse cx="954.8" cy="189.7" rx="3.75" ry="3.9"/><ellipse cx="957.5" cy="191.4" rx="3.75" ry="3.9"/><ellipse cx="976.8" cy="199.5" rx="3.75" ry="3.9"/><ellipse cx="982.2" cy="199.3" rx="3.75" ry="3.9"/><ellipse cx="987.8" cy="199.7" rx="3.75" ry="3.9"/><ellipse cx="1001.5" cy="196.4" rx="3.75" ry="3.9"/><ellipse cx="1026.2" cy="197.5" rx="3.75" ry="3.9"/><ellipse cx="1029.0" cy="200.4" rx="3.75" ry="3.9"/><ellipse cx="1031.8" cy="204.9" rx="3.75" ry="3.9"/><ellipse cx="1048.2" cy="220.6" rx="3.75" ry="3.9"/><ellipse cx="1062.0" cy="220.6" rx="3.75" ry="3.9"/><ellipse cx="1064.8" cy="215.1" rx="3.75" ry="3.9"/><ellipse cx="1067.5" cy="220.1" rx="3.75" ry="3.9"/><ellipse cx="1070.2" cy="221.0" rx="3.75" ry="3.9"/><ellipse cx="1078.5" cy="215.9" rx="3.75" ry="3.9"/><ellipse cx="1092.2" cy="216.8" rx="3.75" ry="3.9"/><ellipse cx="1095.0" cy="219.4" rx="3.75" ry="3.9"/><ellipse cx="1097.8" cy="217.0" rx="3.75" ry="3.9"/><ellipse cx="1100.5" cy="212.8" rx="3.75" ry="3.9"/><ellipse cx="1103.2" cy="216.6" rx="3.75" ry="3.9"/><ellipse cx="1111.5" cy="218.1" rx="3.75" ry="3.9"/><ellipse cx="1119.8" cy="217.6" rx="3.75" ry="3.9"/><ellipse cx="1122.5" cy="217.6" rx="3.75" ry="3.9"/><ellipse cx="1128.0" cy="215.3" rx="3.75" ry="3.9"/><ellipse cx="1136.2" cy="213.9" rx="3.75" ry="3.9"/><ellipse cx="1139.0" cy="216.6" rx="3.75" ry="3.9"/><ellipse cx="1141.8" cy="214.1" rx="3.75" ry="3.9"/><ellipse cx="1144.5" cy="214.7" rx="3.75" ry="3.9"/><ellipse cx="1150.0" cy="219.0" rx="3.75" ry="3.9"/><ellipse cx="1161.0" cy="225.9" rx="3.75" ry="3.9"/><ellipse cx="1166.5" cy="222.2" rx="3.75" ry="3.9"/><ellipse cx="1174.8" cy="225.7" rx="3.75" ry="3.9"/><ellipse cx="1177.5" cy="225.9" rx="3.75" ry="3.9"/><ellipse cx="1183.0" cy="230.9" rx="3.75" ry="3.9"/><ellipse cx="1188.5" cy="233.3" rx="3.75" ry="3.9"/><ellipse cx="1196.8" cy="228.2" rx="3.75" ry="3.9"/><ellipse cx="1199.5" cy="231.3" rx="3.75" ry="3.9"/><ellipse cx="1205.0" cy="224.9" rx="3.75" ry="3.9"/><ellipse cx="1207.8" cy="221.4" rx="3.75" ry="3.9"/><ellipse cx="1210.5" cy="226.1" rx="3.75" ry="3.9"/><ellipse cx="1213.2" cy="226.0" rx="3.75" ry="3.9"/><ellipse cx="1216.0" cy="220.5" rx="3.75" ry="3.9"/><ellipse cx="1221.5" cy="218.9" rx="3.75" ry="3.9"/><ellipse cx="1246.2" cy="218.9" rx="3.75" ry="3.9"/><ellipse cx="1257.2" cy="216.2" rx="3.75" ry="3.9"/><ellipse cx="1262.8" cy="219.7" rx="3.75" ry="3.9"/><ellipse cx="1265.5" cy="217.7" rx="3.75" ry="3.9"/><ellipse cx="1273.8" cy="220.2" rx="3.75" ry="3.9"/><ellipse cx="1276.5" cy="217.3" rx="3.75" ry="3.9"/><ellipse cx="1279.2" cy="212.4" rx="3.75" ry="3.9"/><ellipse cx="1282.0" cy="210.5" rx="3.75" ry="3.9"/><ellipse cx="1290.2" cy="207.5" rx="3.75" ry="3.9"/><ellipse cx="1295.8" cy="199.0" rx="3.75" ry="3.9"/><ellipse cx="1298.5" cy="200.8" rx="3.75" ry="3.9"/><ellipse cx="1301.2" cy="203.9" rx="3.75" ry="3.9"/><ellipse cx="1304.0" cy="206.1" rx="3.75" ry="3.9"/><ellipse cx="1315.0" cy="197.8" rx="3.75" ry="3.9"/><ellipse cx="1320.5" cy="196.2" rx="3.75" ry="3.9"/><ellipse cx="1323.2" cy="195.2" rx="3.75" ry="3.9"/><ellipse cx="1328.8" cy="202.5" rx="3.75" ry="3.9"/><ellipse cx="1337.0" cy="201.9" rx="3.75" ry="3.9"/><ellipse cx="1339.8" cy="207.2" rx="3.75" ry="3.9"/><ellipse cx="1342.5" cy="210.9" rx="3.75" ry="3.9"/><ellipse cx="1350.8" cy="204.0" rx="3.75" ry="3.9"/><ellipse cx="1364.5" cy="210.9" rx="3.75" ry="3.9"/><ellipse cx="1378.2" cy="208.3" rx="3.75" ry="3.9"/><ellipse cx="1381.0" cy="212.3" rx="3.75" ry="3.9"/><ellipse cx="1403.0" cy="209.0" rx="3.75" ry="3.9"/><ellipse cx="1405.8" cy="209.7" rx="3.75" ry="3.9"/><ellipse cx="1411.2" cy="203.3" rx="3.75" ry="3.9"/><ellipse cx="1414.0" cy="207.8" rx="3.75" ry="3.9"/><ellipse cx="1419.5" cy="205.5" rx="3.75" ry="3.9"/><ellipse cx="1427.8" cy="206.5" rx="3.75" ry="3.9"/><ellipse cx="1433.2" cy="205.7" rx="3.75" ry="3.9"/><ellipse cx="1449.8" cy="213.3" rx="3.75" ry="3.9"/><ellipse cx="1458.0" cy="212.5" rx="3.75" ry="3.9"/><ellipse cx="1466.2" cy="210.5" rx="3.75" ry="3.9"/><ellipse cx="1474.5" cy="209.7" rx="3.75" ry="3.9"/><ellipse cx="1477.2" cy="212.8" rx="3.75" ry="3.9"/><ellipse cx="1482.8" cy="210.1" rx="3.75" ry="3.9"/><ellipse cx="1491.0" cy="205.1" rx="3.75" ry="3.9"/><ellipse cx="1493.8" cy="203.4" rx="3.75" ry="3.9"/><ellipse cx="1496.5" cy="199.9" rx="3.75" ry="3.9"/><ellipse cx="1502.0" cy="205.3" rx="3.75" ry="3.9"/><ellipse cx="1507.5" cy="201.3" rx="3.75" ry="3.9"/><ellipse cx="1510.2" cy="203.8" rx="3.75" ry="3.9"/><ellipse cx="1515.8" cy="201.4" rx="3.75" ry="3.9"/><ellipse cx="1518.5" cy="206.3" rx="3.75" ry="3.9"/><ellipse cx="1521.2" cy="203.5" rx="3.75" ry="3.9"/><ellipse cx="1524.0" cy="214.9" rx="3.75" ry="3.9"/></g>
<path d="M156.3,158.0 L158.6,172.3 L162.1,194.3 L164.9,181.5 L167.8,162.7 L174.0,152.0 L183.3,146.5 L187.8,142.5 L190.1,137.9 L193.6,132.8 L198.2,129.3 L201.6,129.9 L205.0,134.5 L208.5,140.2 L213.1,144.8 L217.7,150.6 L221.7,157.4 L225.7,162.0 L230.3,168.9 L234.9,174.6 L239.4,180.4 L242.9,183.8 L247.5,184.4 L253.2,185.0 L257.8,182.7 L262.4,176.9 L265.8,167.8 L269.3,158.6 L272.7,150.6 L277.3,142.5 L281.9,135.6 L287.6,129.9 L292.2,127.4 L296.8,128.2 L301.4,131.6 L307.1,136.8 L311.7,141.4 L315.1,149.4 L320.1,160.3 L324.5,172.3 L329.2,181.5 L334.9,187.2 L340.6,191.3 L346.4,193.0 L353.3,192.4 L357.8,188.4 L361.3,180.4 L365.9,170.0 L369.3,160.9 L373.9,156.3 L377.9,151.7 L379.6,146.0 L383.1,139.1 L388.8,137.4 L395.7,135.6 L402.6,135.1 L407.2,129.9 L411.7,132.8 L416.3,137.9 L420.9,144.8 L424.4,151.7 L428.9,156.3 L433.5,159.7 L438.1,162.0 L443.9,160.3 L449.6,158.6 L456.5,156.9 L462.2,159.2 L469.1,160.9 L474.8,157.4 L477.1,152.8 L481.7,149.4 L487.4,151.7 L495.0,154.9 L501.5,154.7 L507.2,157.5 L512.9,158.7 L518.7,159.2 L524.4,160.4 L530.1,162.7 L535.9,163.8 L540.5,165.6 L545.0,170.1 L549.6,173.0 L554.2,177.0 L558.8,179.3 L563.4,182.8 L568.0,186.2 L572.6,189.6 L577.2,193.1 L581.7,197.7 L584.0,196.5 L587.5,190.8 L590.9,185.0 L594.4,180.5 L597.8,175.9 L601.2,171.3 L605.8,170.1 L611.6,171.3 L616.1,169.6 L621.9,166.7 L627.6,169.6 L633.3,173.6 L637.9,178.2 L641.4,185.0 L644.8,194.2 L648.3,200.0 L652.8,206.8 L657.4,214.9 L662.1,220.3 L664.6,221.1 L669.2,224.5 L673.8,221.7 L679.5,220.5 L685.2,217.1 L689.8,210.8 L694.4,206.2 L699.0,208.5 L703.6,207.9 L708.2,209.6 L713.9,209.6 L719.6,211.9 L724.2,216.5 L728.8,215.4 L734.5,214.2 L739.1,214.8 L743.7,218.8 L749.4,220.0 L755.2,218.8 L760.9,219.4 L765.5,218.8 L770.1,214.2 L774.7,213.1 L778.1,217.7 L781.6,223.4 L785.0,218.8 L789.6,217.7 L794.2,216.5 L798.8,217.7 L803.3,212.5 L809.1,209.6 L814.8,210.8 L820.6,208.5 L826.3,206.2 L830.5,199.9 L834.6,197.0 L839.2,203.9 L843.8,206.2 L849.5,203.9 L855.2,208.5 L861.0,207.3 L865.6,200.5 L870.1,194.7 L874.7,195.3 L879.3,197.0 L882.8,203.9 L887.3,205.0 L891.9,202.8 L896.5,206.2 L901.1,208.5 L906.8,207.3 L912.6,206.2 L917.2,208.5 L919.4,214.2 L924.0,215.4 L928.6,215.4 L933.2,210.8 L937.8,206.2 L943.5,200.5 L948.1,193.6 L953.9,193.0 L960.7,193.6 L966.5,197.0 L971.1,203.9 L975.6,201.6 L980.2,198.2 L986.0,197.0 L991.7,198.2 L996.3,198.2 L1000.9,195.9 L1004.6,197.8 L1010.3,199.0 L1016.1,205.9 L1022.9,200.1 L1028.7,201.3 L1034.4,203.6 L1039.0,208.2 L1042.4,215.0 L1048.2,218.5 L1053.9,222.5 L1059.6,219.6 L1065.4,217.9 L1071.1,219.6 L1076.8,217.3 L1081.4,213.9 L1084.9,219.6 L1088.3,224.2 L1092.9,218.5 L1098.6,216.2 L1105.5,215.0 L1110.1,217.3 L1114.7,219.6 L1119.3,215.0 L1123.9,213.9 L1129.6,216.2 L1135.3,216.2 L1139.9,212.8 L1145.6,215.0 L1151.4,217.3 L1157.1,220.8 L1162.8,224.2 L1168.6,226.5 L1173.2,231.1 L1175.7,226.5 L1181.5,228.8 L1187.2,230.0 L1191.8,231.1 L1197.5,228.8 L1203.3,225.9 L1209.0,224.2 L1214.7,222.5 L1220.5,220.8 L1223.9,217.3 L1229.6,219.6 L1235.4,220.2 L1238.8,218.5 L1244.5,217.3 L1250.3,217.3 L1256.0,219.1 L1261.7,220.2 L1267.5,218.5 L1273.2,219.6 L1278.9,215.0 L1284.7,210.5 L1289.3,205.9 L1293.9,200.1 L1298.4,203.6 L1303.0,208.7 L1307.6,204.7 L1312.2,199.0 L1317.9,197.8 L1323.7,196.7 L1328.3,202.4 L1332.8,203.0 L1337.4,203.6 L1340.0,208.4 L1342.0,207.0 L1346.3,213.5 L1352.7,204.6 L1359.0,208.4 L1365.4,212.2 L1371.7,213.5 L1378.1,211.0 L1384.4,213.5 L1390.8,214.8 L1395.9,205.9 L1403.5,207.1 L1411.1,205.9 L1418.7,208.4 L1426.3,209.0 L1431.4,207.1 L1439.0,207.1 L1445.4,208.4 L1449.2,214.8 L1454.3,217.3 L1460.6,214.8 L1464.4,212.2 L1470.8,212.2 L1477.1,213.5 L1482.2,208.4 L1487.3,204.6 L1492.4,200.8 L1497.5,202.1 L1502.5,202.1 L1507.6,203.3 L1512.7,202.1 L1517.8,202.1 L1521.6,207.1 L1524.1,216.0 L1527.9,219.2 L1530.5,219.2" fill="none" stroke="#0072BD" stroke-width="6.0" stroke-linejoin="round" stroke-linecap="round"/>
<g fill="#EDB120"><ellipse cx="253.4" cy="475.3" rx="3.75" ry="3.9"/><ellipse cx="247.8" cy="485.2" rx="3.75" ry="3.9"/><ellipse cx="237.0" cy="507.3" rx="3.75" ry="3.9"/><ellipse cx="250.6" cy="523.9" rx="3.75" ry="3.9"/><ellipse cx="234.4" cy="537.2" rx="3.75" ry="3.9"/><ellipse cx="239.5" cy="551.2" rx="3.75" ry="3.9"/><ellipse cx="228.6" cy="555.3" rx="3.75" ry="3.9"/><ellipse cx="261.8" cy="555.3" rx="3.75" ry="3.9"/><ellipse cx="176.3" cy="508.9" rx="3.75" ry="3.9"/><ellipse cx="168.3" cy="515.9" rx="3.75" ry="3.9"/><ellipse cx="187.5" cy="525.9" rx="3.75" ry="3.9"/><ellipse cx="165.5" cy="534.4" rx="3.75" ry="3.9"/><ellipse cx="162.7" cy="559.5" rx="3.75" ry="3.9"/><ellipse cx="184.4" cy="565.7" rx="3.75" ry="3.9"/><ellipse cx="162.7" cy="574.7" rx="3.75" ry="3.9"/><ellipse cx="278.5" cy="563.9" rx="3.75" ry="3.9"/><ellipse cx="281.6" cy="562.6" rx="3.75" ry="3.9"/><ellipse cx="292.1" cy="571.3" rx="3.75" ry="3.9"/><ellipse cx="338.6" cy="545.6" rx="3.75" ry="3.9"/><ellipse cx="333.0" cy="554.9" rx="3.75" ry="3.9"/><ellipse cx="341.7" cy="567.3" rx="3.75" ry="3.9"/><ellipse cx="335.8" cy="572.8" rx="3.75" ry="3.9"/><ellipse cx="349.7" cy="560.4" rx="3.75" ry="3.9"/><ellipse cx="348.2" cy="574.4" rx="3.75" ry="3.9"/><ellipse cx="195.2" cy="588.6" rx="3.75" ry="3.9"/><ellipse cx="170.4" cy="594.4" rx="3.75" ry="3.9"/><ellipse cx="258.7" cy="585.1" rx="3.75" ry="3.9"/><ellipse cx="231.7" cy="591.3" rx="3.75" ry="3.9"/><ellipse cx="286.2" cy="600.1" rx="3.75" ry="3.9"/><ellipse cx="299.9" cy="603.2" rx="3.75" ry="3.9"/><ellipse cx="313.8" cy="590.5" rx="3.75" ry="3.9"/><ellipse cx="324.9" cy="583.5" rx="3.75" ry="3.9"/><ellipse cx="173.2" cy="617.6" rx="3.75" ry="3.9"/><ellipse cx="189.9" cy="626.9" rx="3.75" ry="3.9"/><ellipse cx="201.1" cy="625.8" rx="3.75" ry="3.9"/><ellipse cx="198.3" cy="631.5" rx="3.75" ry="3.9"/><ellipse cx="226.6" cy="610.3" rx="3.75" ry="3.9"/><ellipse cx="217.3" cy="616.5" rx="3.75" ry="3.9"/><ellipse cx="264.3" cy="612.5" rx="3.75" ry="3.9"/><ellipse cx="272.3" cy="616.5" rx="3.75" ry="3.9"/><ellipse cx="305.6" cy="621.1" rx="3.75" ry="3.9"/><ellipse cx="320.3" cy="615.6" rx="3.75" ry="3.9"/><ellipse cx="330.4" cy="616.5" rx="3.75" ry="3.9"/><ellipse cx="344.3" cy="604.1" rx="3.75" ry="3.9"/><ellipse cx="346.9" cy="624.5" rx="3.75" ry="3.9"/><ellipse cx="308.7" cy="634.6" rx="3.75" ry="3.9"/><ellipse cx="159.3" cy="648.5" rx="3.75" ry="3.9"/><ellipse cx="283.1" cy="650.9" rx="3.75" ry="3.9"/><ellipse cx="296.8" cy="650.9" rx="3.75" ry="3.9"/><ellipse cx="221.2" cy="657.1" rx="3.75" ry="3.9"/><ellipse cx="178.6" cy="661.7" rx="3.75" ry="3.9"/><ellipse cx="302.5" cy="671.3" rx="3.75" ry="3.9"/><ellipse cx="293.2" cy="679.0" rx="3.75" ry="3.9"/><ellipse cx="220.0" cy="703.5" rx="3.75" ry="3.9"/><ellipse cx="155.4" cy="620.7" rx="3.75" ry="3.9"/><ellipse cx="204.2" cy="602.9" rx="3.75" ry="3.9"/><ellipse cx="267.7" cy="599.8" rx="3.75" ry="3.9"/><ellipse cx="536.6" cy="524.8" rx="3.75" ry="3.9"/><ellipse cx="418.1" cy="542.5" rx="3.75" ry="3.9"/><ellipse cx="379.7" cy="560.4" rx="3.75" ry="3.9"/><ellipse cx="355.0" cy="569.7" rx="3.75" ry="3.9"/><ellipse cx="363.2" cy="573.9" rx="3.75" ry="3.9"/><ellipse cx="377.1" cy="572.4" rx="3.75" ry="3.9"/><ellipse cx="421.5" cy="568.5" rx="3.75" ry="3.9"/><ellipse cx="429.3" cy="566.2" rx="3.75" ry="3.9"/><ellipse cx="451.4" cy="554.9" rx="3.75" ry="3.9"/><ellipse cx="448.3" cy="566.2" rx="3.75" ry="3.9"/><ellipse cx="462.2" cy="564.2" rx="3.75" ry="3.9"/><ellipse cx="454.0" cy="572.8" rx="3.75" ry="3.9"/><ellipse cx="489.6" cy="554.3" rx="3.75" ry="3.9"/><ellipse cx="495.2" cy="556.4" rx="3.75" ry="3.9"/><ellipse cx="509.2" cy="558.0" rx="3.75" ry="3.9"/><ellipse cx="548.5" cy="551.2" rx="3.75" ry="3.9"/><ellipse cx="546.9" cy="561.5" rx="3.75" ry="3.9"/><ellipse cx="473.9" cy="573.1" rx="3.75" ry="3.9"/><ellipse cx="479.3" cy="573.1" rx="3.75" ry="3.9"/><ellipse cx="492.7" cy="574.4" rx="3.75" ry="3.9"/><ellipse cx="534.2" cy="573.5" rx="3.75" ry="3.9"/><ellipse cx="539.7" cy="573.1" rx="3.75" ry="3.9"/><ellipse cx="366.3" cy="582.4" rx="3.75" ry="3.9"/><ellipse cx="357.0" cy="582.0" rx="3.75" ry="3.9"/><ellipse cx="412.7" cy="587.7" rx="3.75" ry="3.9"/><ellipse cx="426.6" cy="582.4" rx="3.75" ry="3.9"/><ellipse cx="446.0" cy="577.8" rx="3.75" ry="3.9"/><ellipse cx="488.6" cy="578.1" rx="3.75" ry="3.9"/><ellipse cx="511.8" cy="579.3" rx="3.75" ry="3.9"/><ellipse cx="520.3" cy="580.0" rx="3.75" ry="3.9"/><ellipse cx="541.7" cy="582.0" rx="3.75" ry="3.9"/><ellipse cx="538.1" cy="576.5" rx="3.75" ry="3.9"/><ellipse cx="544.3" cy="576.5" rx="3.75" ry="3.9"/><ellipse cx="442.9" cy="594.8" rx="3.75" ry="3.9"/><ellipse cx="440.1" cy="604.1" rx="3.75" ry="3.9"/><ellipse cx="434.8" cy="612.2" rx="3.75" ry="3.9"/><ellipse cx="459.6" cy="607.8" rx="3.75" ry="3.9"/><ellipse cx="456.8" cy="618.0" rx="3.75" ry="3.9"/><ellipse cx="466.4" cy="597.9" rx="3.75" ry="3.9"/><ellipse cx="469.2" cy="597.9" rx="3.75" ry="3.9"/><ellipse cx="484.4" cy="601.0" rx="3.75" ry="3.9"/><ellipse cx="470.4" cy="611.8" rx="3.75" ry="3.9"/><ellipse cx="476.2" cy="610.9" rx="3.75" ry="3.9"/><ellipse cx="500.5" cy="612.9" rx="3.75" ry="3.9"/><ellipse cx="514.4" cy="601.0" rx="3.75" ry="3.9"/><ellipse cx="517.2" cy="615.3" rx="3.75" ry="3.9"/><ellipse cx="528.3" cy="593.3" rx="3.75" ry="3.9"/><ellipse cx="544.8" cy="603.2" rx="3.75" ry="3.9"/><ellipse cx="498.9" cy="598.5" rx="3.75" ry="3.9"/><ellipse cx="504.8" cy="596.4" rx="3.75" ry="3.9"/><ellipse cx="360.5" cy="616.5" rx="3.75" ry="3.9"/><ellipse cx="371.7" cy="619.1" rx="3.75" ry="3.9"/><ellipse cx="399.2" cy="625.3" rx="3.75" ry="3.9"/><ellipse cx="387.9" cy="632.6" rx="3.75" ry="3.9"/><ellipse cx="391.0" cy="636.6" rx="3.75" ry="3.9"/><ellipse cx="407.6" cy="638.2" rx="3.75" ry="3.9"/><ellipse cx="432.1" cy="629.2" rx="3.75" ry="3.9"/><ellipse cx="481.3" cy="640.8" rx="3.75" ry="3.9"/><ellipse cx="525.7" cy="649.3" rx="3.75" ry="3.9"/><ellipse cx="393.7" cy="654.7" rx="3.75" ry="3.9"/><ellipse cx="383.8" cy="647.5" rx="3.75" ry="3.9"/><ellipse cx="404.5" cy="664.5" rx="3.75" ry="3.9"/><ellipse cx="415.8" cy="602.6" rx="3.75" ry="3.9"/><ellipse cx="410.4" cy="612.5" rx="3.75" ry="3.9"/><ellipse cx="657.6" cy="485.7" rx="3.75" ry="3.9"/><ellipse cx="646.8" cy="498.1" rx="3.75" ry="3.9"/><ellipse cx="740.1" cy="492.3" rx="3.75" ry="3.9"/><ellipse cx="674.2" cy="505.8" rx="3.75" ry="3.9"/><ellipse cx="701.7" cy="510.4" rx="3.75" ry="3.9"/><ellipse cx="644.1" cy="513.1" rx="3.75" ry="3.9"/><ellipse cx="655.0" cy="523.6" rx="3.75" ry="3.9"/><ellipse cx="567.0" cy="522.4" rx="3.75" ry="3.9"/><ellipse cx="575.1" cy="527.9" rx="3.75" ry="3.9"/><ellipse cx="555.9" cy="534.7" rx="3.75" ry="3.9"/><ellipse cx="723.7" cy="522.8" rx="3.75" ry="3.9"/><ellipse cx="731.9" cy="523.9" rx="3.75" ry="3.9"/><ellipse cx="583.8" cy="540.3" rx="3.75" ry="3.9"/><ellipse cx="602.9" cy="541.4" rx="3.75" ry="3.9"/><ellipse cx="630.2" cy="543.0" rx="3.75" ry="3.9"/><ellipse cx="572.4" cy="547.6" rx="3.75" ry="3.9"/><ellipse cx="591.5" cy="553.3" rx="3.75" ry="3.9"/><ellipse cx="599.9" cy="550.7" rx="3.75" ry="3.9"/><ellipse cx="688.6" cy="538.3" rx="3.75" ry="3.9"/><ellipse cx="693.7" cy="537.2" rx="3.75" ry="3.9"/><ellipse cx="721.1" cy="540.6" rx="3.75" ry="3.9"/><ellipse cx="734.5" cy="534.4" rx="3.75" ry="3.9"/><ellipse cx="737.3" cy="539.9" rx="3.75" ry="3.9"/><ellipse cx="704.5" cy="546.8" rx="3.75" ry="3.9"/><ellipse cx="652.2" cy="553.3" rx="3.75" ry="3.9"/><ellipse cx="660.2" cy="554.9" rx="3.75" ry="3.9"/><ellipse cx="665.8" cy="557.7" rx="3.75" ry="3.9"/><ellipse cx="649.4" cy="561.1" rx="3.75" ry="3.9"/><ellipse cx="671.1" cy="566.6" rx="3.75" ry="3.9"/><ellipse cx="707.1" cy="562.6" rx="3.75" ry="3.9"/><ellipse cx="698.9" cy="566.2" rx="3.75" ry="3.9"/><ellipse cx="718.0" cy="567.3" rx="3.75" ry="3.9"/><ellipse cx="711.8" cy="566.6" rx="3.75" ry="3.9"/><ellipse cx="691.2" cy="570.4" rx="3.75" ry="3.9"/><ellipse cx="696.3" cy="572.8" rx="3.75" ry="3.9"/><ellipse cx="709.8" cy="573.9" rx="3.75" ry="3.9"/><ellipse cx="585.9" cy="569.7" rx="3.75" ry="3.9"/><ellipse cx="747.9" cy="552.7" rx="3.75" ry="3.9"/><ellipse cx="563.9" cy="563.9" rx="3.75" ry="3.9"/><ellipse cx="569.4" cy="554.6" rx="3.75" ry="3.9"/><ellipse cx="553.4" cy="585.1" rx="3.75" ry="3.9"/><ellipse cx="613.5" cy="589.7" rx="3.75" ry="3.9"/><ellipse cx="624.6" cy="593.9" rx="3.75" ry="3.9"/><ellipse cx="634.8" cy="582.0" rx="3.75" ry="3.9"/><ellipse cx="641.3" cy="580.9" rx="3.75" ry="3.9"/><ellipse cx="627.1" cy="576.9" rx="3.75" ry="3.9"/><ellipse cx="616.6" cy="613.4" rx="3.75" ry="3.9"/><ellipse cx="610.7" cy="619.1" rx="3.75" ry="3.9"/><ellipse cx="558.5" cy="612.5" rx="3.75" ry="3.9"/><ellipse cx="619.4" cy="643.1" rx="3.75" ry="3.9"/><ellipse cx="685.0" cy="585.5" rx="3.75" ry="3.9"/><ellipse cx="715.3" cy="594.8" rx="3.75" ry="3.9"/><ellipse cx="590.3" cy="576.5" rx="3.75" ry="3.9"/><ellipse cx="608.1" cy="578.1" rx="3.75" ry="3.9"/><ellipse cx="907.9" cy="445.0" rx="3.75" ry="3.9"/><ellipse cx="919.1" cy="452.1" rx="3.75" ry="3.9"/><ellipse cx="864.3" cy="466.3" rx="3.75" ry="3.9"/><ellipse cx="814.2" cy="486.1" rx="3.75" ry="3.9"/><ellipse cx="855.6" cy="486.8" rx="3.75" ry="3.9"/><ellipse cx="905.1" cy="484.9" rx="3.75" ry="3.9"/><ellipse cx="902.5" cy="489.2" rx="3.75" ry="3.9"/><ellipse cx="789.5" cy="500.1" rx="3.75" ry="3.9"/><ellipse cx="800.8" cy="497.6" rx="3.75" ry="3.9"/><ellipse cx="803.9" cy="501.2" rx="3.75" ry="3.9"/><ellipse cx="822.8" cy="506.3" rx="3.75" ry="3.9"/><ellipse cx="836.4" cy="500.7" rx="3.75" ry="3.9"/><ellipse cx="844.7" cy="506.9" rx="3.75" ry="3.9"/><ellipse cx="850.3" cy="503.8" rx="3.75" ry="3.9"/><ellipse cx="839.0" cy="513.1" rx="3.75" ry="3.9"/><ellipse cx="781.3" cy="510.9" rx="3.75" ry="3.9"/><ellipse cx="764.7" cy="523.6" rx="3.75" ry="3.9"/><ellipse cx="775.5" cy="519.7" rx="3.75" ry="3.9"/><ellipse cx="779.4" cy="520.8" rx="3.75" ry="3.9"/><ellipse cx="786.8" cy="520.5" rx="3.75" ry="3.9"/><ellipse cx="795.2" cy="520.5" rx="3.75" ry="3.9"/><ellipse cx="896.8" cy="509.4" rx="3.75" ry="3.9"/><ellipse cx="913.3" cy="498.8" rx="3.75" ry="3.9"/><ellipse cx="921.8" cy="498.8" rx="3.75" ry="3.9"/><ellipse cx="927.3" cy="496.0" rx="3.75" ry="3.9"/><ellipse cx="943.8" cy="498.1" rx="3.75" ry="3.9"/><ellipse cx="948.2" cy="492.3" rx="3.75" ry="3.9"/><ellipse cx="946.3" cy="510.9" rx="3.75" ry="3.9"/><ellipse cx="872.0" cy="516.2" rx="3.75" ry="3.9"/><ellipse cx="866.9" cy="520.2" rx="3.75" ry="3.9"/><ellipse cx="916.4" cy="525.1" rx="3.75" ry="3.9"/><ellipse cx="929.9" cy="524.8" rx="3.75" ry="3.9"/><ellipse cx="941.2" cy="527.9" rx="3.75" ry="3.9"/><ellipse cx="753.9" cy="533.7" rx="3.75" ry="3.9"/><ellipse cx="886.2" cy="536.8" rx="3.75" ry="3.9"/><ellipse cx="924.6" cy="542.2" rx="3.75" ry="3.9"/><ellipse cx="767.8" cy="549.9" rx="3.75" ry="3.9"/><ellipse cx="784.1" cy="549.6" rx="3.75" ry="3.9"/><ellipse cx="792.6" cy="549.6" rx="3.75" ry="3.9"/><ellipse cx="811.6" cy="552.7" rx="3.75" ry="3.9"/><ellipse cx="820.0" cy="546.8" rx="3.75" ry="3.9"/><ellipse cx="827.7" cy="555.3" rx="3.75" ry="3.9"/><ellipse cx="833.6" cy="556.9" rx="3.75" ry="3.9"/><ellipse cx="830.2" cy="552.7" rx="3.75" ry="3.9"/><ellipse cx="847.2" cy="551.8" rx="3.75" ry="3.9"/><ellipse cx="861.2" cy="544.5" rx="3.75" ry="3.9"/><ellipse cx="869.5" cy="548.7" rx="3.75" ry="3.9"/><ellipse cx="888.6" cy="549.6" rx="3.75" ry="3.9"/><ellipse cx="894.8" cy="555.3" rx="3.75" ry="3.9"/><ellipse cx="891.2" cy="561.5" rx="3.75" ry="3.9"/><ellipse cx="899.9" cy="563.9" rx="3.75" ry="3.9"/><ellipse cx="910.7" cy="550.2" rx="3.75" ry="3.9"/><ellipse cx="853.0" cy="561.5" rx="3.75" ry="3.9"/><ellipse cx="875.1" cy="563.9" rx="3.75" ry="3.9"/><ellipse cx="756.5" cy="558.9" rx="3.75" ry="3.9"/><ellipse cx="759.3" cy="570.8" rx="3.75" ry="3.9"/><ellipse cx="798.0" cy="565.7" rx="3.75" ry="3.9"/><ellipse cx="825.6" cy="574.4" rx="3.75" ry="3.9"/><ellipse cx="806.0" cy="535.2" rx="3.75" ry="3.9"/><ellipse cx="842.1" cy="536.8" rx="3.75" ry="3.9"/><ellipse cx="770.4" cy="580.9" rx="3.75" ry="3.9"/><ellipse cx="858.7" cy="585.5" rx="3.75" ry="3.9"/><ellipse cx="762.1" cy="595.4" rx="3.75" ry="3.9"/><ellipse cx="1067.4" cy="434.9" rx="3.75" ry="3.9"/><ellipse cx="1064.9" cy="458.4" rx="3.75" ry="3.9"/><ellipse cx="1092.1" cy="464.3" rx="3.75" ry="3.9"/><ellipse cx="996.1" cy="470.8" rx="3.75" ry="3.9"/><ellipse cx="1108.7" cy="477.5" rx="3.75" ry="3.9"/><ellipse cx="1081.3" cy="477.5" rx="3.75" ry="3.9"/><ellipse cx="1146.6" cy="469.7" rx="3.75" ry="3.9"/><ellipse cx="1148.5" cy="474.8" rx="3.75" ry="3.9"/><ellipse cx="1031.7" cy="484.4" rx="3.75" ry="3.9"/><ellipse cx="1040.1" cy="489.1" rx="3.75" ry="3.9"/><ellipse cx="1053.7" cy="486.0" rx="3.75" ry="3.9"/><ellipse cx="1061.8" cy="488.8" rx="3.75" ry="3.9"/><ellipse cx="1075.7" cy="484.4" rx="3.75" ry="3.9"/><ellipse cx="1089.6" cy="486.8" rx="3.75" ry="3.9"/><ellipse cx="1141.7" cy="486.3" rx="3.75" ry="3.9"/><ellipse cx="982.2" cy="493.7" rx="3.75" ry="3.9"/><ellipse cx="993.3" cy="491.9" rx="3.75" ry="3.9"/><ellipse cx="1029.0" cy="497.6" rx="3.75" ry="3.9"/><ellipse cx="1037.0" cy="498.7" rx="3.75" ry="3.9"/><ellipse cx="1094.8" cy="495.6" rx="3.75" ry="3.9"/><ellipse cx="1047.8" cy="502.7" rx="3.75" ry="3.9"/><ellipse cx="1100.5" cy="506.4" rx="3.75" ry="3.9"/><ellipse cx="1111.3" cy="504.9" rx="3.75" ry="3.9"/><ellipse cx="1120.0" cy="504.9" rx="3.75" ry="3.9"/><ellipse cx="952.3" cy="509.2" rx="3.75" ry="3.9"/><ellipse cx="957.4" cy="518.8" rx="3.75" ry="3.9"/><ellipse cx="974.0" cy="522.8" rx="3.75" ry="3.9"/><ellipse cx="1007.0" cy="513.1" rx="3.75" ry="3.9"/><ellipse cx="1086.2" cy="518.8" rx="3.75" ry="3.9"/><ellipse cx="1097.4" cy="520.8" rx="3.75" ry="3.9"/><ellipse cx="1015.8" cy="523.9" rx="3.75" ry="3.9"/><ellipse cx="1072.6" cy="523.9" rx="3.75" ry="3.9"/><ellipse cx="954.6" cy="539.7" rx="3.75" ry="3.9"/><ellipse cx="968.6" cy="544.4" rx="3.75" ry="3.9"/><ellipse cx="990.6" cy="548.2" rx="3.75" ry="3.9"/><ellipse cx="1001.4" cy="545.1" rx="3.75" ry="3.9"/><ellipse cx="979.4" cy="541.7" rx="3.75" ry="3.9"/><ellipse cx="963.2" cy="555.2" rx="3.75" ry="3.9"/><ellipse cx="960.1" cy="561.8" rx="3.75" ry="3.9"/><ellipse cx="965.8" cy="559.4" rx="3.75" ry="3.9"/><ellipse cx="987.5" cy="562.2" rx="3.75" ry="3.9"/><ellipse cx="1012.7" cy="556.7" rx="3.75" ry="3.9"/><ellipse cx="1009.6" cy="563.7" rx="3.75" ry="3.9"/><ellipse cx="1026.2" cy="561.4" rx="3.75" ry="3.9"/><ellipse cx="1045.2" cy="553.2" rx="3.75" ry="3.9"/><ellipse cx="1050.9" cy="539.2" rx="3.75" ry="3.9"/><ellipse cx="1059.1" cy="535.1" rx="3.75" ry="3.9"/><ellipse cx="1056.5" cy="538.6" rx="3.75" ry="3.9"/><ellipse cx="1070.4" cy="540.5" rx="3.75" ry="3.9"/><ellipse cx="1078.5" cy="540.8" rx="3.75" ry="3.9"/><ellipse cx="1084.4" cy="541.3" rx="3.75" ry="3.9"/><ellipse cx="1106.1" cy="532.7" rx="3.75" ry="3.9"/><ellipse cx="1125.3" cy="537.1" rx="3.75" ry="3.9"/><ellipse cx="1127.7" cy="532.0" rx="3.75" ry="3.9"/><ellipse cx="1116.9" cy="545.1" rx="3.75" ry="3.9"/><ellipse cx="1130.8" cy="548.5" rx="3.75" ry="3.9"/><ellipse cx="1138.9" cy="553.6" rx="3.75" ry="3.9"/><ellipse cx="1103.3" cy="556.7" rx="3.75" ry="3.9"/><ellipse cx="1122.2" cy="559.4" rx="3.75" ry="3.9"/><ellipse cx="1144.3" cy="579.2" rx="3.75" ry="3.9"/><ellipse cx="1023.5" cy="609.8" rx="3.75" ry="3.9"/><ellipse cx="1149.7" cy="540.5" rx="3.75" ry="3.9"/><ellipse cx="1018.9" cy="536.1" rx="3.75" ry="3.9"/><ellipse cx="1034.4" cy="533.5" rx="3.75" ry="3.9"/><ellipse cx="976.6" cy="537.1" rx="3.75" ry="3.9"/><ellipse cx="1205.4" cy="457.3" rx="3.75" ry="3.9"/><ellipse cx="1232.8" cy="465.6" rx="3.75" ry="3.9"/><ellipse cx="1326.2" cy="463.5" rx="3.75" ry="3.9"/><ellipse cx="1347.9" cy="463.5" rx="3.75" ry="3.9"/><ellipse cx="1348.9" cy="469.0" rx="3.75" ry="3.9"/><ellipse cx="1166.7" cy="470.2" rx="3.75" ry="3.9"/><ellipse cx="1172.0" cy="479.5" rx="3.75" ry="3.9"/><ellipse cx="1185.6" cy="474.4" rx="3.75" ry="3.9"/><ellipse cx="1196.8" cy="473.6" rx="3.75" ry="3.9"/><ellipse cx="1202.3" cy="481.7" rx="3.75" ry="3.9"/><ellipse cx="1213.5" cy="475.5" rx="3.75" ry="3.9"/><ellipse cx="1257.1" cy="471.7" rx="3.75" ry="3.9"/><ellipse cx="1251.9" cy="482.9" rx="3.75" ry="3.9"/><ellipse cx="1295.8" cy="477.9" rx="3.75" ry="3.9"/><ellipse cx="1182.8" cy="495.3" rx="3.75" ry="3.9"/><ellipse cx="1191.5" cy="497.6" rx="3.75" ry="3.9"/><ellipse cx="1216.3" cy="493.4" rx="3.75" ry="3.9"/><ellipse cx="1235.9" cy="494.0" rx="3.75" ry="3.9"/><ellipse cx="1239.5" cy="495.0" rx="3.75" ry="3.9"/><ellipse cx="1255.0" cy="491.4" rx="3.75" ry="3.9"/><ellipse cx="1263.0" cy="489.1" rx="3.75" ry="3.9"/><ellipse cx="1269.2" cy="490.6" rx="3.75" ry="3.9"/><ellipse cx="1271.5" cy="490.3" rx="3.75" ry="3.9"/><ellipse cx="1282.8" cy="496.8" rx="3.75" ry="3.9"/><ellipse cx="1287.0" cy="493.0" rx="3.75" ry="3.9"/><ellipse cx="1293.2" cy="496.5" rx="3.75" ry="3.9"/><ellipse cx="1301.4" cy="496.5" rx="3.75" ry="3.9"/><ellipse cx="1304.0" cy="502.7" rx="3.75" ry="3.9"/><ellipse cx="1323.4" cy="492.5" rx="3.75" ry="3.9"/><ellipse cx="1340.1" cy="496.5" rx="3.75" ry="3.9"/><ellipse cx="1345.4" cy="507.7" rx="3.75" ry="3.9"/><ellipse cx="1160.8" cy="504.6" rx="3.75" ry="3.9"/><ellipse cx="1218.9" cy="515.1" rx="3.75" ry="3.9"/><ellipse cx="1226.2" cy="517.7" rx="3.75" ry="3.9"/><ellipse cx="1273.9" cy="517.7" rx="3.75" ry="3.9"/><ellipse cx="1315.3" cy="519.7" rx="3.75" ry="3.9"/><ellipse cx="1169.4" cy="520.8" rx="3.75" ry="3.9"/><ellipse cx="1180.2" cy="520.0" rx="3.75" ry="3.9"/><ellipse cx="1290.6" cy="524.4" rx="3.75" ry="3.9"/><ellipse cx="1153.1" cy="540.8" rx="3.75" ry="3.9"/><ellipse cx="1174.8" cy="540.2" rx="3.75" ry="3.9"/><ellipse cx="1163.9" cy="553.6" rx="3.75" ry="3.9"/><ellipse cx="1199.5" cy="548.2" rx="3.75" ry="3.9"/><ellipse cx="1210.7" cy="545.9" rx="3.75" ry="3.9"/><ellipse cx="1230.2" cy="554.1" rx="3.75" ry="3.9"/><ellipse cx="1243.7" cy="532.0" rx="3.75" ry="3.9"/><ellipse cx="1246.3" cy="538.2" rx="3.75" ry="3.9"/><ellipse cx="1265.8" cy="545.9" rx="3.75" ry="3.9"/><ellipse cx="1276.6" cy="530.9" rx="3.75" ry="3.9"/><ellipse cx="1279.7" cy="535.8" rx="3.75" ry="3.9"/><ellipse cx="1298.3" cy="542.8" rx="3.75" ry="3.9"/><ellipse cx="1337.3" cy="532.0" rx="3.75" ry="3.9"/><ellipse cx="1342.7" cy="539.7" rx="3.75" ry="3.9"/><ellipse cx="1320.3" cy="543.9" rx="3.75" ry="3.9"/><ellipse cx="1317.5" cy="547.9" rx="3.75" ry="3.9"/><ellipse cx="1312.2" cy="556.7" rx="3.75" ry="3.9"/><ellipse cx="1307.1" cy="558.8" rx="3.75" ry="3.9"/><ellipse cx="1309.8" cy="568.3" rx="3.75" ry="3.9"/><ellipse cx="1334.2" cy="566.0" rx="3.75" ry="3.9"/><ellipse cx="1260.2" cy="570.7" rx="3.75" ry="3.9"/><ellipse cx="1188.4" cy="576.1" rx="3.75" ry="3.9"/><ellipse cx="1331.4" cy="596.2" rx="3.75" ry="3.9"/><ellipse cx="1324.2" cy="525.8" rx="3.75" ry="3.9"/><ellipse cx="1402.9" cy="403.2" rx="3.75" ry="3.9"/><ellipse cx="1416.9" cy="468.2" rx="3.75" ry="3.9"/><ellipse cx="1521.5" cy="469.3" rx="3.75" ry="3.9"/><ellipse cx="1351.2" cy="462.8" rx="3.75" ry="3.9"/><ellipse cx="1353.4" cy="473.3" rx="3.75" ry="3.9"/><ellipse cx="1364.7" cy="472.1" rx="3.75" ry="3.9"/><ellipse cx="1381.3" cy="477.0" rx="3.75" ry="3.9"/><ellipse cx="1406.0" cy="478.6" rx="3.75" ry="3.9"/><ellipse cx="1439.0" cy="484.7" rx="3.75" ry="3.9"/><ellipse cx="1444.4" cy="491.9" rx="3.75" ry="3.9"/><ellipse cx="1458.1" cy="491.4" rx="3.75" ry="3.9"/><ellipse cx="1474.6" cy="490.6" rx="3.75" ry="3.9"/><ellipse cx="1485.5" cy="492.5" rx="3.75" ry="3.9"/><ellipse cx="1496.3" cy="494.5" rx="3.75" ry="3.9"/><ellipse cx="1502.0" cy="501.2" rx="3.75" ry="3.9"/><ellipse cx="1516.0" cy="495.6" rx="3.75" ry="3.9"/><ellipse cx="1425.1" cy="499.1" rx="3.75" ry="3.9"/><ellipse cx="1455.3" cy="500.7" rx="3.75" ry="3.9"/><ellipse cx="1466.4" cy="503.3" rx="3.75" ry="3.9"/><ellipse cx="1394.9" cy="502.2" rx="3.75" ry="3.9"/><ellipse cx="1452.5" cy="508.0" rx="3.75" ry="3.9"/><ellipse cx="1436.4" cy="511.1" rx="3.75" ry="3.9"/><ellipse cx="1488.1" cy="510.0" rx="3.75" ry="3.9"/><ellipse cx="1498.9" cy="510.4" rx="3.75" ry="3.9"/><ellipse cx="1510.2" cy="513.1" rx="3.75" ry="3.9"/><ellipse cx="1383.8" cy="513.9" rx="3.75" ry="3.9"/><ellipse cx="1524.2" cy="510.0" rx="3.75" ry="3.9"/><ellipse cx="1530.4" cy="510.8" rx="3.75" ry="3.9"/><ellipse cx="1378.2" cy="532.0" rx="3.75" ry="3.9"/><ellipse cx="1386.8" cy="533.1" rx="3.75" ry="3.9"/><ellipse cx="1400.3" cy="533.1" rx="3.75" ry="3.9"/><ellipse cx="1447.2" cy="530.9" rx="3.75" ry="3.9"/><ellipse cx="1463.3" cy="529.3" rx="3.75" ry="3.9"/><ellipse cx="1472.0" cy="530.0" rx="3.75" ry="3.9"/><ellipse cx="1518.4" cy="528.4" rx="3.75" ry="3.9"/><ellipse cx="1526.5" cy="525.8" rx="3.75" ry="3.9"/><ellipse cx="1367.0" cy="526.5" rx="3.75" ry="3.9"/><ellipse cx="1391.8" cy="544.8" rx="3.75" ry="3.9"/><ellipse cx="1408.5" cy="543.3" rx="3.75" ry="3.9"/><ellipse cx="1411.6" cy="544.8" rx="3.75" ry="3.9"/><ellipse cx="1433.3" cy="549.5" rx="3.75" ry="3.9"/><ellipse cx="1441.7" cy="545.9" rx="3.75" ry="3.9"/><ellipse cx="1356.2" cy="550.1" rx="3.75" ry="3.9"/><ellipse cx="1373.2" cy="561.8" rx="3.75" ry="3.9"/><ellipse cx="1376.0" cy="559.8" rx="3.75" ry="3.9"/><ellipse cx="1397.7" cy="561.4" rx="3.75" ry="3.9"/><ellipse cx="1427.7" cy="567.6" rx="3.75" ry="3.9"/><ellipse cx="1422.5" cy="572.7" rx="3.75" ry="3.9"/><ellipse cx="1480.0" cy="565.6" rx="3.75" ry="3.9"/><ellipse cx="1491.2" cy="558.3" rx="3.75" ry="3.9"/><ellipse cx="1512.9" cy="562.2" rx="3.75" ry="3.9"/><ellipse cx="1362.1" cy="582.0" rx="3.75" ry="3.9"/><ellipse cx="1419.7" cy="594.4" rx="3.75" ry="3.9"/><ellipse cx="1505.1" cy="606.3" rx="3.75" ry="3.9"/><ellipse cx="1430.5" cy="526.2" rx="3.75" ry="3.9"/><ellipse cx="1356.5" cy="525.8" rx="3.75" ry="3.9"/><ellipse cx="168.2" cy="581.5" rx="3.75" ry="3.9"/><ellipse cx="176.5" cy="590.8" rx="3.75" ry="3.9"/><ellipse cx="179.2" cy="590.6" rx="3.75" ry="3.9"/><ellipse cx="182.0" cy="591.3" rx="3.75" ry="3.9"/><ellipse cx="184.8" cy="594.0" rx="3.75" ry="3.9"/><ellipse cx="187.5" cy="599.0" rx="3.75" ry="3.9"/><ellipse cx="190.2" cy="601.9" rx="3.75" ry="3.9"/><ellipse cx="193.0" cy="603.4" rx="3.75" ry="3.9"/><ellipse cx="201.2" cy="610.7" rx="3.75" ry="3.9"/><ellipse cx="206.8" cy="615.5" rx="3.75" ry="3.9"/><ellipse cx="209.5" cy="607.3" rx="3.75" ry="3.9"/><ellipse cx="215.0" cy="606.6" rx="3.75" ry="3.9"/><ellipse cx="223.2" cy="588.6" rx="3.75" ry="3.9"/><ellipse cx="226.0" cy="588.0" rx="3.75" ry="3.9"/><ellipse cx="228.8" cy="581.7" rx="3.75" ry="3.9"/><ellipse cx="234.2" cy="573.8" rx="3.75" ry="3.9"/><ellipse cx="242.5" cy="570.2" rx="3.75" ry="3.9"/><ellipse cx="245.2" cy="566.0" rx="3.75" ry="3.9"/><ellipse cx="248.0" cy="568.2" rx="3.75" ry="3.9"/><ellipse cx="259.0" cy="564.1" rx="3.75" ry="3.9"/><ellipse cx="270.0" cy="578.8" rx="3.75" ry="3.9"/><ellipse cx="272.8" cy="585.3" rx="3.75" ry="3.9"/><ellipse cx="278.2" cy="598.9" rx="3.75" ry="3.9"/><ellipse cx="292.0" cy="612.6" rx="3.75" ry="3.9"/><ellipse cx="294.8" cy="616.1" rx="3.75" ry="3.9"/><ellipse cx="297.5" cy="611.6" rx="3.75" ry="3.9"/><ellipse cx="303.0" cy="606.3" rx="3.75" ry="3.9"/><ellipse cx="305.8" cy="608.0" rx="3.75" ry="3.9"/><ellipse cx="308.5" cy="608.4" rx="3.75" ry="3.9"/><ellipse cx="316.8" cy="595.8" rx="3.75" ry="3.9"/><ellipse cx="319.5" cy="598.2" rx="3.75" ry="3.9"/><ellipse cx="325.0" cy="592.6" rx="3.75" ry="3.9"/><ellipse cx="327.8" cy="591.9" rx="3.75" ry="3.9"/><ellipse cx="341.5" cy="587.3" rx="3.75" ry="3.9"/><ellipse cx="344.2" cy="585.7" rx="3.75" ry="3.9"/><ellipse cx="347.0" cy="587.2" rx="3.75" ry="3.9"/><ellipse cx="349.8" cy="584.0" rx="3.75" ry="3.9"/><ellipse cx="352.5" cy="582.9" rx="3.75" ry="3.9"/><ellipse cx="360.8" cy="589.6" rx="3.75" ry="3.9"/><ellipse cx="369.0" cy="604.9" rx="3.75" ry="3.9"/><ellipse cx="377.2" cy="608.6" rx="3.75" ry="3.9"/><ellipse cx="388.2" cy="617.7" rx="3.75" ry="3.9"/><ellipse cx="391.0" cy="615.8" rx="3.75" ry="3.9"/><ellipse cx="402.0" cy="611.8" rx="3.75" ry="3.9"/><ellipse cx="404.8" cy="608.2" rx="3.75" ry="3.9"/><ellipse cx="413.0" cy="607.1" rx="3.75" ry="3.9"/><ellipse cx="418.5" cy="599.4" rx="3.75" ry="3.9"/><ellipse cx="421.2" cy="594.7" rx="3.75" ry="3.9"/><ellipse cx="424.0" cy="593.4" rx="3.75" ry="3.9"/><ellipse cx="429.5" cy="584.0" rx="3.75" ry="3.9"/><ellipse cx="432.2" cy="587.2" rx="3.75" ry="3.9"/><ellipse cx="435.0" cy="583.2" rx="3.75" ry="3.9"/><ellipse cx="437.8" cy="585.2" rx="3.75" ry="3.9"/><ellipse cx="443.2" cy="581.6" rx="3.75" ry="3.9"/><ellipse cx="446.0" cy="586.3" rx="3.75" ry="3.9"/><ellipse cx="451.5" cy="586.8" rx="3.75" ry="3.9"/><ellipse cx="457.0" cy="591.8" rx="3.75" ry="3.9"/><ellipse cx="459.8" cy="595.5" rx="3.75" ry="3.9"/><ellipse cx="462.5" cy="590.8" rx="3.75" ry="3.9"/><ellipse cx="465.2" cy="588.4" rx="3.75" ry="3.9"/><ellipse cx="473.5" cy="584.8" rx="3.75" ry="3.9"/><ellipse cx="479.0" cy="587.0" rx="3.75" ry="3.9"/><ellipse cx="484.5" cy="590.9" rx="3.75" ry="3.9"/><ellipse cx="487.2" cy="591.4" rx="3.75" ry="3.9"/><ellipse cx="492.8" cy="586.3" rx="3.75" ry="3.9"/><ellipse cx="503.8" cy="593.3" rx="3.75" ry="3.9"/><ellipse cx="506.5" cy="591.4" rx="3.75" ry="3.9"/><ellipse cx="509.2" cy="587.1" rx="3.75" ry="3.9"/><ellipse cx="517.5" cy="586.0" rx="3.75" ry="3.9"/><ellipse cx="525.8" cy="584.0" rx="3.75" ry="3.9"/><ellipse cx="536.8" cy="582.4" rx="3.75" ry="3.9"/><ellipse cx="539.5" cy="581.7" rx="3.75" ry="3.9"/><ellipse cx="547.8" cy="574.1" rx="3.75" ry="3.9"/><ellipse cx="550.5" cy="567.3" rx="3.75" ry="3.9"/><ellipse cx="558.8" cy="557.2" rx="3.75" ry="3.9"/><ellipse cx="561.5" cy="558.2" rx="3.75" ry="3.9"/><ellipse cx="564.2" cy="555.6" rx="3.75" ry="3.9"/><ellipse cx="567.0" cy="560.4" rx="3.75" ry="3.9"/><ellipse cx="572.5" cy="557.2" rx="3.75" ry="3.9"/><ellipse cx="578.0" cy="560.1" rx="3.75" ry="3.9"/><ellipse cx="580.8" cy="559.0" rx="3.75" ry="3.9"/><ellipse cx="589.0" cy="561.4" rx="3.75" ry="3.9"/><ellipse cx="594.5" cy="570.6" rx="3.75" ry="3.9"/><ellipse cx="597.2" cy="571.8" rx="3.75" ry="3.9"/><ellipse cx="600.0" cy="574.7" rx="3.75" ry="3.9"/><ellipse cx="605.5" cy="579.2" rx="3.75" ry="3.9"/><ellipse cx="613.8" cy="576.6" rx="3.75" ry="3.9"/><ellipse cx="616.5" cy="573.2" rx="3.75" ry="3.9"/><ellipse cx="619.2" cy="570.2" rx="3.75" ry="3.9"/><ellipse cx="622.0" cy="571.7" rx="3.75" ry="3.9"/><ellipse cx="624.8" cy="572.6" rx="3.75" ry="3.9"/><ellipse cx="627.5" cy="571.6" rx="3.75" ry="3.9"/><ellipse cx="635.8" cy="561.2" rx="3.75" ry="3.9"/><ellipse cx="638.5" cy="561.6" rx="3.75" ry="3.9"/><ellipse cx="641.2" cy="557.6" rx="3.75" ry="3.9"/><ellipse cx="652.2" cy="546.7" rx="3.75" ry="3.9"/><ellipse cx="663.2" cy="541.9" rx="3.75" ry="3.9"/><ellipse cx="668.8" cy="541.4" rx="3.75" ry="3.9"/><ellipse cx="674.2" cy="547.5" rx="3.75" ry="3.9"/><ellipse cx="677.0" cy="546.8" rx="3.75" ry="3.9"/><ellipse cx="679.8" cy="544.1" rx="3.75" ry="3.9"/><ellipse cx="685.2" cy="545.7" rx="3.75" ry="3.9"/><ellipse cx="690.8" cy="550.3" rx="3.75" ry="3.9"/><ellipse cx="693.5" cy="552.6" rx="3.75" ry="3.9"/><ellipse cx="704.5" cy="556.2" rx="3.75" ry="3.9"/><ellipse cx="707.2" cy="554.1" rx="3.75" ry="3.9"/><ellipse cx="712.8" cy="554.0" rx="3.75" ry="3.9"/><ellipse cx="723.8" cy="549.0" rx="3.75" ry="3.9"/><ellipse cx="729.2" cy="547.8" rx="3.75" ry="3.9"/><ellipse cx="732.0" cy="550.0" rx="3.75" ry="3.9"/><ellipse cx="737.5" cy="550.1" rx="3.75" ry="3.9"/><ellipse cx="740.2" cy="544.9" rx="3.75" ry="3.9"/><ellipse cx="745.8" cy="547.8" rx="3.75" ry="3.9"/><ellipse cx="748.5" cy="545.9" rx="3.75" ry="3.9"/><ellipse cx="759.5" cy="538.2" rx="3.75" ry="3.9"/><ellipse cx="762.2" cy="539.1" rx="3.75" ry="3.9"/><ellipse cx="767.8" cy="541.2" rx="3.75" ry="3.9"/><ellipse cx="773.2" cy="537.0" rx="3.75" ry="3.9"/><ellipse cx="778.8" cy="533.1" rx="3.75" ry="3.9"/><ellipse cx="781.5" cy="532.7" rx="3.75" ry="3.9"/><ellipse cx="784.2" cy="532.4" rx="3.75" ry="3.9"/><ellipse cx="792.5" cy="529.1" rx="3.75" ry="3.9"/><ellipse cx="798.0" cy="529.9" rx="3.75" ry="3.9"/><ellipse cx="800.8" cy="525.2" rx="3.75" ry="3.9"/><ellipse cx="803.5" cy="530.0" rx="3.75" ry="3.9"/><ellipse cx="811.8" cy="527.3" rx="3.75" ry="3.9"/><ellipse cx="814.5" cy="530.0" rx="3.75" ry="3.9"/><ellipse cx="820.0" cy="531.0" rx="3.75" ry="3.9"/><ellipse cx="822.8" cy="533.2" rx="3.75" ry="3.9"/><ellipse cx="828.2" cy="533.3" rx="3.75" ry="3.9"/><ellipse cx="831.0" cy="531.8" rx="3.75" ry="3.9"/><ellipse cx="833.8" cy="530.3" rx="3.75" ry="3.9"/><ellipse cx="836.5" cy="534.2" rx="3.75" ry="3.9"/><ellipse cx="839.2" cy="533.7" rx="3.75" ry="3.9"/><ellipse cx="844.8" cy="531.1" rx="3.75" ry="3.9"/><ellipse cx="858.5" cy="529.2" rx="3.75" ry="3.9"/><ellipse cx="861.2" cy="528.1" rx="3.75" ry="3.9"/><ellipse cx="872.2" cy="538.2" rx="3.75" ry="3.9"/><ellipse cx="886.0" cy="523.7" rx="3.75" ry="3.9"/><ellipse cx="888.8" cy="522.1" rx="3.75" ry="3.9"/><ellipse cx="891.5" cy="526.0" rx="3.75" ry="3.9"/><ellipse cx="902.5" cy="520.3" rx="3.75" ry="3.9"/><ellipse cx="905.2" cy="520.8" rx="3.75" ry="3.9"/><ellipse cx="910.8" cy="517.6" rx="3.75" ry="3.9"/><ellipse cx="916.2" cy="516.3" rx="3.75" ry="3.9"/><ellipse cx="919.0" cy="510.2" rx="3.75" ry="3.9"/><ellipse cx="921.8" cy="511.6" rx="3.75" ry="3.9"/><ellipse cx="930.0" cy="511.2" rx="3.75" ry="3.9"/><ellipse cx="932.8" cy="508.9" rx="3.75" ry="3.9"/><ellipse cx="960.2" cy="529.0" rx="3.75" ry="3.9"/><ellipse cx="965.8" cy="525.9" rx="3.75" ry="3.9"/><ellipse cx="971.2" cy="528.9" rx="3.75" ry="3.9"/><ellipse cx="974.0" cy="522.6" rx="3.75" ry="3.9"/><ellipse cx="976.8" cy="532.4" rx="3.75" ry="3.9"/><ellipse cx="979.5" cy="528.9" rx="3.75" ry="3.9"/><ellipse cx="982.2" cy="529.3" rx="3.75" ry="3.9"/><ellipse cx="996.0" cy="528.9" rx="3.75" ry="3.9"/><ellipse cx="998.8" cy="529.8" rx="3.75" ry="3.9"/><ellipse cx="1007.0" cy="534.3" rx="3.75" ry="3.9"/><ellipse cx="1015.2" cy="524.5" rx="3.75" ry="3.9"/><ellipse cx="1018.0" cy="524.0" rx="3.75" ry="3.9"/><ellipse cx="1034.5" cy="525.8" rx="3.75" ry="3.9"/><ellipse cx="1037.2" cy="526.3" rx="3.75" ry="3.9"/><ellipse cx="1040.0" cy="519.6" rx="3.75" ry="3.9"/><ellipse cx="1042.8" cy="514.8" rx="3.75" ry="3.9"/><ellipse cx="1045.5" cy="514.4" rx="3.75" ry="3.9"/><ellipse cx="1051.0" cy="508.0" rx="3.75" ry="3.9"/><ellipse cx="1064.8" cy="507.9" rx="3.75" ry="3.9"/><ellipse cx="1067.5" cy="509.5" rx="3.75" ry="3.9"/><ellipse cx="1070.2" cy="507.3" rx="3.75" ry="3.9"/><ellipse cx="1075.8" cy="506.4" rx="3.75" ry="3.9"/><ellipse cx="1078.5" cy="506.7" rx="3.75" ry="3.9"/><ellipse cx="1081.2" cy="502.3" rx="3.75" ry="3.9"/><ellipse cx="1084.0" cy="505.8" rx="3.75" ry="3.9"/><ellipse cx="1089.5" cy="504.1" rx="3.75" ry="3.9"/><ellipse cx="1097.8" cy="512.1" rx="3.75" ry="3.9"/><ellipse cx="1100.5" cy="516.5" rx="3.75" ry="3.9"/><ellipse cx="1103.2" cy="519.3" rx="3.75" ry="3.9"/><ellipse cx="1106.0" cy="515.3" rx="3.75" ry="3.9"/><ellipse cx="1114.2" cy="520.4" rx="3.75" ry="3.9"/><ellipse cx="1117.0" cy="524.9" rx="3.75" ry="3.9"/><ellipse cx="1128.0" cy="522.7" rx="3.75" ry="3.9"/><ellipse cx="1130.8" cy="525.1" rx="3.75" ry="3.9"/><ellipse cx="1133.5" cy="525.6" rx="3.75" ry="3.9"/><ellipse cx="1136.2" cy="522.5" rx="3.75" ry="3.9"/><ellipse cx="1139.0" cy="527.6" rx="3.75" ry="3.9"/><ellipse cx="1144.5" cy="525.1" rx="3.75" ry="3.9"/><ellipse cx="1147.2" cy="520.4" rx="3.75" ry="3.9"/><ellipse cx="1161.0" cy="511.9" rx="3.75" ry="3.9"/><ellipse cx="1163.8" cy="514.1" rx="3.75" ry="3.9"/><ellipse cx="1172.0" cy="511.2" rx="3.75" ry="3.9"/><ellipse cx="1180.2" cy="508.7" rx="3.75" ry="3.9"/><ellipse cx="1185.8" cy="505.1" rx="3.75" ry="3.9"/><ellipse cx="1188.5" cy="508.9" rx="3.75" ry="3.9"/><ellipse cx="1194.0" cy="506.5" rx="3.75" ry="3.9"/><ellipse cx="1196.8" cy="506.6" rx="3.75" ry="3.9"/><ellipse cx="1202.2" cy="506.5" rx="3.75" ry="3.9"/><ellipse cx="1205.0" cy="511.4" rx="3.75" ry="3.9"/><ellipse cx="1210.5" cy="510.1" rx="3.75" ry="3.9"/><ellipse cx="1213.2" cy="504.9" rx="3.75" ry="3.9"/><ellipse cx="1224.2" cy="504.4" rx="3.75" ry="3.9"/><ellipse cx="1229.8" cy="503.6" rx="3.75" ry="3.9"/><ellipse cx="1232.5" cy="503.5" rx="3.75" ry="3.9"/><ellipse cx="1235.2" cy="509.5" rx="3.75" ry="3.9"/><ellipse cx="1249.0" cy="509.5" rx="3.75" ry="3.9"/><ellipse cx="1251.8" cy="510.7" rx="3.75" ry="3.9"/><ellipse cx="1257.2" cy="509.0" rx="3.75" ry="3.9"/><ellipse cx="1262.8" cy="507.6" rx="3.75" ry="3.9"/><ellipse cx="1287.5" cy="517.3" rx="3.75" ry="3.9"/><ellipse cx="1290.2" cy="516.9" rx="3.75" ry="3.9"/><ellipse cx="1301.2" cy="517.8" rx="3.75" ry="3.9"/><ellipse cx="1309.5" cy="525.5" rx="3.75" ry="3.9"/><ellipse cx="1315.0" cy="528.1" rx="3.75" ry="3.9"/><ellipse cx="1320.5" cy="528.5" rx="3.75" ry="3.9"/><ellipse cx="1326.0" cy="524.5" rx="3.75" ry="3.9"/><ellipse cx="1328.8" cy="526.2" rx="3.75" ry="3.9"/><ellipse cx="1337.0" cy="522.6" rx="3.75" ry="3.9"/><ellipse cx="1356.2" cy="526.9" rx="3.75" ry="3.9"/><ellipse cx="1359.0" cy="522.9" rx="3.75" ry="3.9"/><ellipse cx="1361.8" cy="521.4" rx="3.75" ry="3.9"/><ellipse cx="1364.5" cy="523.6" rx="3.75" ry="3.9"/><ellipse cx="1367.2" cy="517.6" rx="3.75" ry="3.9"/><ellipse cx="1370.0" cy="519.4" rx="3.75" ry="3.9"/><ellipse cx="1372.8" cy="519.0" rx="3.75" ry="3.9"/><ellipse cx="1375.5" cy="521.5" rx="3.75" ry="3.9"/><ellipse cx="1378.2" cy="519.1" rx="3.75" ry="3.9"/><ellipse cx="1381.0" cy="521.3" rx="3.75" ry="3.9"/><ellipse cx="1389.2" cy="522.3" rx="3.75" ry="3.9"/><ellipse cx="1392.0" cy="519.0" rx="3.75" ry="3.9"/><ellipse cx="1394.8" cy="523.6" rx="3.75" ry="3.9"/><ellipse cx="1408.5" cy="526.3" rx="3.75" ry="3.9"/><ellipse cx="1411.2" cy="524.0" rx="3.75" ry="3.9"/><ellipse cx="1422.2" cy="521.2" rx="3.75" ry="3.9"/><ellipse cx="1425.0" cy="524.6" rx="3.75" ry="3.9"/><ellipse cx="1427.8" cy="526.4" rx="3.75" ry="3.9"/><ellipse cx="1430.5" cy="522.8" rx="3.75" ry="3.9"/><ellipse cx="1433.2" cy="521.5" rx="3.75" ry="3.9"/><ellipse cx="1436.0" cy="517.3" rx="3.75" ry="3.9"/><ellipse cx="1441.5" cy="519.0" rx="3.75" ry="3.9"/><ellipse cx="1444.2" cy="519.1" rx="3.75" ry="3.9"/><ellipse cx="1447.0" cy="518.5" rx="3.75" ry="3.9"/><ellipse cx="1452.5" cy="519.1" rx="3.75" ry="3.9"/><ellipse cx="1458.0" cy="518.0" rx="3.75" ry="3.9"/><ellipse cx="1466.2" cy="519.2" rx="3.75" ry="3.9"/><ellipse cx="1471.8" cy="513.1" rx="3.75" ry="3.9"/><ellipse cx="1480.0" cy="515.8" rx="3.75" ry="3.9"/><ellipse cx="1482.8" cy="519.2" rx="3.75" ry="3.9"/><ellipse cx="1488.2" cy="520.7" rx="3.75" ry="3.9"/><ellipse cx="1496.5" cy="524.8" rx="3.75" ry="3.9"/><ellipse cx="1515.8" cy="519.6" rx="3.75" ry="3.9"/><ellipse cx="1524.0" cy="515.5" rx="3.75" ry="3.9"/></g>
<path d="M159.2,613.9 L160.9,594.4 L162.6,577.2 L167.2,582.9 L172.9,587.5 L178.7,591.0 L184.4,595.5 L189.0,595.9 L192.4,603.4 L195.9,609.1 L200.5,613.7 L205.0,614.9 L208.5,610.3 L211.9,603.4 L214.2,608.0 L217.7,604.5 L221.1,597.7 L224.5,588.5 L228.0,580.5 L232.6,577.0 L237.2,572.4 L241.7,569.0 L247.5,566.7 L253.2,563.3 L256.7,562.1 L260.1,567.8 L264.7,573.6 L269.3,579.3 L273.9,587.3 L277.3,594.2 L280.7,603.4 L284.2,610.3 L289.9,613.7 L296.8,614.3 L301.4,610.3 L307.1,606.8 L311.7,601.1 L316.3,598.8 L322.0,597.7 L324.6,595.0 L329.2,589.3 L333.8,585.9 L339.5,584.7 L345.2,585.3 L351.0,585.9 L356.7,583.6 L360.1,589.3 L363.6,595.0 L368.2,601.9 L372.8,606.5 L377.3,608.8 L380.8,614.5 L384.2,619.1 L388.8,619.1 L393.4,616.8 L398.0,612.2 L402.6,608.8 L407.2,611.1 L411.7,607.7 L416.3,603.1 L420.9,597.3 L425.5,590.5 L430.1,587.0 L434.7,584.7 L439.3,582.4 L443.9,584.7 L449.6,588.2 L454.2,590.5 L457.6,593.9 L462.2,590.5 L466.8,588.2 L471.4,585.9 L476.0,588.2 L480.6,591.6 L485.1,588.2 L489.7,589.3 L495.7,590.0 L501.5,593.4 L507.2,591.1 L512.9,584.2 L518.7,586.5 L524.4,587.7 L530.1,583.1 L535.9,579.6 L541.6,578.5 L547.3,572.8 L551.9,565.9 L556.5,560.1 L562.2,557.8 L568.0,559.0 L572.6,556.7 L578.3,557.8 L584.0,559.0 L589.8,562.4 L593.2,568.2 L597.8,572.8 L602.4,575.0 L607.0,578.5 L611.6,577.3 L616.1,576.2 L620.7,571.6 L625.3,571.6 L629.9,568.2 L633.3,563.6 L639.1,557.8 L643.7,552.1 L648.3,546.4 L652.8,542.9 L658.6,541.8 L664.6,539.3 L669.2,542.8 L674.9,545.0 L680.6,543.9 L685.2,547.3 L689.8,553.1 L694.4,555.4 L700.1,554.2 L705.9,554.2 L710.5,553.1 L715.0,549.6 L720.8,546.2 L726.5,545.0 L731.1,546.2 L736.8,548.5 L742.6,546.2 L748.3,545.0 L754.0,542.8 L759.8,541.6 L765.5,541.6 L770.1,540.5 L774.7,538.2 L780.4,535.9 L786.1,533.6 L789.6,529.0 L794.2,527.8 L798.8,526.7 L803.3,529.0 L809.1,529.0 L814.8,529.0 L820.6,530.1 L826.3,530.1 L830.0,530.8 L832.0,532.4 L835.7,531.9 L841.5,534.2 L847.2,532.5 L852.9,531.9 L859.8,530.2 L864.4,533.6 L870.1,535.4 L875.9,536.5 L879.3,531.9 L883.9,527.3 L889.6,525.0 L895.4,522.8 L901.1,520.5 L906.8,518.2 L912.6,515.9 L918.3,512.4 L922.9,509.0 L927.5,506.7 L932.1,510.1 L936.7,514.7 L941.2,519.3 L945.8,522.8 L951.6,525.0 L957.3,526.2 L963.0,528.5 L968.8,527.3 L973.3,525.0 L977.9,530.8 L983.7,533.1 L989.4,530.8 L995.1,528.5 L999.7,527.3 L1004.6,532.2 L1010.3,531.1 L1014.9,526.5 L1019.5,527.7 L1024.1,530.0 L1029.8,528.8 L1034.4,528.8 L1039.0,521.9 L1043.6,517.3 L1048.2,513.9 L1051.6,508.2 L1056.2,507.0 L1060.8,509.3 L1066.5,508.2 L1072.2,504.7 L1076.8,503.6 L1081.4,505.9 L1086.0,502.4 L1090.6,504.7 L1094.0,509.3 L1098.6,512.8 L1103.2,516.2 L1108.9,518.5 L1113.5,518.5 L1118.1,524.2 L1122.7,524.2 L1127.3,523.6 L1131.9,521.9 L1137.6,525.4 L1143.3,523.1 L1149.1,519.6 L1154.8,517.3 L1159.4,513.9 L1164.0,511.6 L1169.7,511.6 L1175.7,511.6 L1181.5,508.2 L1187.2,507.0 L1192.9,509.3 L1198.7,507.0 L1204.4,508.2 L1210.1,507.0 L1215.9,504.7 L1221.6,508.2 L1227.3,504.7 L1233.1,507.0 L1238.8,508.2 L1244.5,507.0 L1250.3,509.3 L1256.0,508.2 L1261.7,509.3 L1267.5,510.5 L1273.2,507.0 L1277.8,507.0 L1282.4,512.8 L1287.0,516.2 L1292.7,518.5 L1297.3,520.8 L1303.0,517.3 L1307.6,523.1 L1313.3,526.5 L1320.2,528.8 L1326.0,524.2 L1331.7,524.2 L1337.4,521.9 L1340.0,520.8 L1342.0,518.5 L1345.1,518.3 L1350.2,522.1 L1355.2,524.6 L1361.6,519.5 L1366.7,520.8 L1373.0,519.5 L1378.1,520.8 L1384.4,518.3 L1390.8,520.8 L1397.1,522.1 L1403.5,522.1 L1409.8,523.3 L1416.2,522.1 L1422.5,520.8 L1428.9,524.6 L1435.2,520.8 L1441.6,520.8 L1447.9,517.0 L1454.3,515.7 L1460.6,515.7 L1467.0,517.0 L1473.3,516.3 L1478.4,517.0 L1482.2,520.8 L1488.6,523.3 L1494.9,522.1 L1501.3,522.1 L1507.6,520.8 L1512.7,518.3 L1517.8,518.3 L1521.6,514.4 L1525.4,511.9 L1529.2,512.5" fill="none" stroke="#EDB120" stroke-width="6.0" stroke-linejoin="round" stroke-linecap="round"/>
<g fill="#77AC30"><ellipse cx="162.7" cy="583.1" rx="3.75" ry="3.9"/><ellipse cx="198.3" cy="600.1" rx="3.75" ry="3.9"/><ellipse cx="217.8" cy="599.0" rx="3.75" ry="3.9"/><ellipse cx="223.5" cy="612.5" rx="3.75" ry="3.9"/><ellipse cx="245.2" cy="611.8" rx="3.75" ry="3.9"/><ellipse cx="264.3" cy="609.4" rx="3.75" ry="3.9"/><ellipse cx="307.9" cy="613.7" rx="3.75" ry="3.9"/><ellipse cx="324.2" cy="616.0" rx="3.75" ry="3.9"/><ellipse cx="341.2" cy="581.5" rx="3.75" ry="3.9"/><ellipse cx="346.6" cy="586.6" rx="3.75" ry="3.9"/><ellipse cx="344.3" cy="595.4" rx="3.75" ry="3.9"/><ellipse cx="335.8" cy="606.7" rx="3.75" ry="3.9"/><ellipse cx="338.6" cy="604.7" rx="3.75" ry="3.9"/><ellipse cx="220.4" cy="624.9" rx="3.75" ry="3.9"/><ellipse cx="272.3" cy="628.9" rx="3.75" ry="3.9"/><ellipse cx="275.1" cy="636.2" rx="3.75" ry="3.9"/><ellipse cx="283.5" cy="636.2" rx="3.75" ry="3.9"/><ellipse cx="258.7" cy="633.5" rx="3.75" ry="3.9"/><ellipse cx="256.0" cy="636.6" rx="3.75" ry="3.9"/><ellipse cx="236.7" cy="640.0" rx="3.75" ry="3.9"/><ellipse cx="203.9" cy="641.9" rx="3.75" ry="3.9"/><ellipse cx="209.6" cy="645.0" rx="3.75" ry="3.9"/><ellipse cx="303.0" cy="635.1" rx="3.75" ry="3.9"/><ellipse cx="305.1" cy="642.8" rx="3.75" ry="3.9"/><ellipse cx="299.9" cy="647.0" rx="3.75" ry="3.9"/><ellipse cx="321.5" cy="644.4" rx="3.75" ry="3.9"/><ellipse cx="313.8" cy="654.0" rx="3.75" ry="3.9"/><ellipse cx="311.0" cy="662.9" rx="3.75" ry="3.9"/><ellipse cx="348.5" cy="663.2" rx="3.75" ry="3.9"/><ellipse cx="211.9" cy="663.2" rx="3.75" ry="3.9"/><ellipse cx="247.2" cy="665.6" rx="3.75" ry="3.9"/><ellipse cx="269.5" cy="652.1" rx="3.75" ry="3.9"/><ellipse cx="267.4" cy="665.1" rx="3.75" ry="3.9"/><ellipse cx="294.0" cy="662.9" rx="3.75" ry="3.9"/><ellipse cx="291.7" cy="673.3" rx="3.75" ry="3.9"/><ellipse cx="297.4" cy="678.7" rx="3.75" ry="3.9"/><ellipse cx="286.2" cy="683.4" rx="3.75" ry="3.9"/><ellipse cx="316.4" cy="678.0" rx="3.75" ry="3.9"/><ellipse cx="239.5" cy="673.8" rx="3.75" ry="3.9"/><ellipse cx="253.4" cy="678.0" rx="3.75" ry="3.9"/><ellipse cx="214.7" cy="681.8" rx="3.75" ry="3.9"/><ellipse cx="188.7" cy="678.4" rx="3.75" ry="3.9"/><ellipse cx="190.6" cy="680.3" rx="3.75" ry="3.9"/><ellipse cx="168.6" cy="683.7" rx="3.75" ry="3.9"/><ellipse cx="178.2" cy="686.2" rx="3.75" ry="3.9"/><ellipse cx="174.8" cy="686.5" rx="3.75" ry="3.9"/><ellipse cx="206.5" cy="702.7" rx="3.75" ry="3.9"/><ellipse cx="250.6" cy="707.4" rx="3.75" ry="3.9"/><ellipse cx="278.2" cy="708.5" rx="3.75" ry="3.9"/><ellipse cx="289.0" cy="702.3" rx="3.75" ry="3.9"/><ellipse cx="200.8" cy="650.9" rx="3.75" ry="3.9"/><ellipse cx="225.6" cy="658.6" rx="3.75" ry="3.9"/><ellipse cx="233.6" cy="658.6" rx="3.75" ry="3.9"/><ellipse cx="181.7" cy="665.1" rx="3.75" ry="3.9"/><ellipse cx="193.3" cy="669.7" rx="3.75" ry="3.9"/><ellipse cx="156.2" cy="621.4" rx="3.75" ry="3.9"/><ellipse cx="352.3" cy="589.7" rx="3.75" ry="3.9"/><ellipse cx="357.7" cy="612.5" rx="3.75" ry="3.9"/><ellipse cx="370.9" cy="610.9" rx="3.75" ry="3.9"/><ellipse cx="368.3" cy="612.2" rx="3.75" ry="3.9"/><ellipse cx="401.9" cy="612.2" rx="3.75" ry="3.9"/><ellipse cx="412.7" cy="620.7" rx="3.75" ry="3.9"/><ellipse cx="442.9" cy="615.3" rx="3.75" ry="3.9"/><ellipse cx="448.3" cy="601.0" rx="3.75" ry="3.9"/><ellipse cx="523.1" cy="609.8" rx="3.75" ry="3.9"/><ellipse cx="542.0" cy="627.6" rx="3.75" ry="3.9"/><ellipse cx="548.9" cy="642.8" rx="3.75" ry="3.9"/><ellipse cx="354.6" cy="630.0" rx="3.75" ry="3.9"/><ellipse cx="363.2" cy="633.5" rx="3.75" ry="3.9"/><ellipse cx="366.3" cy="643.9" rx="3.75" ry="3.9"/><ellipse cx="407.6" cy="632.3" rx="3.75" ry="3.9"/><ellipse cx="437.5" cy="636.6" rx="3.75" ry="3.9"/><ellipse cx="456.8" cy="636.9" rx="3.75" ry="3.9"/><ellipse cx="434.8" cy="644.4" rx="3.75" ry="3.9"/><ellipse cx="415.3" cy="647.5" rx="3.75" ry="3.9"/><ellipse cx="446.0" cy="641.3" rx="3.75" ry="3.9"/><ellipse cx="484.4" cy="632.0" rx="3.75" ry="3.9"/><ellipse cx="500.5" cy="637.7" rx="3.75" ry="3.9"/><ellipse cx="509.5" cy="632.0" rx="3.75" ry="3.9"/><ellipse cx="517.5" cy="633.5" rx="3.75" ry="3.9"/><ellipse cx="492.4" cy="643.9" rx="3.75" ry="3.9"/><ellipse cx="514.9" cy="644.7" rx="3.75" ry="3.9"/><ellipse cx="506.4" cy="647.0" rx="3.75" ry="3.9"/><ellipse cx="470.8" cy="647.0" rx="3.75" ry="3.9"/><ellipse cx="382.5" cy="664.5" rx="3.75" ry="3.9"/><ellipse cx="387.2" cy="658.6" rx="3.75" ry="3.9"/><ellipse cx="391.0" cy="661.4" rx="3.75" ry="3.9"/><ellipse cx="404.5" cy="670.7" rx="3.75" ry="3.9"/><ellipse cx="440.1" cy="661.4" rx="3.75" ry="3.9"/><ellipse cx="468.0" cy="660.9" rx="3.75" ry="3.9"/><ellipse cx="473.1" cy="667.1" rx="3.75" ry="3.9"/><ellipse cx="478.8" cy="674.1" rx="3.75" ry="3.9"/><ellipse cx="503.6" cy="665.6" rx="3.75" ry="3.9"/><ellipse cx="536.6" cy="667.1" rx="3.75" ry="3.9"/><ellipse cx="533.9" cy="672.2" rx="3.75" ry="3.9"/><ellipse cx="547.4" cy="670.2" rx="3.75" ry="3.9"/><ellipse cx="420.9" cy="678.4" rx="3.75" ry="3.9"/><ellipse cx="430.2" cy="678.4" rx="3.75" ry="3.9"/><ellipse cx="433.3" cy="677.2" rx="3.75" ry="3.9"/><ellipse cx="410.1" cy="682.1" rx="3.75" ry="3.9"/><ellipse cx="462.7" cy="686.5" rx="3.75" ry="3.9"/><ellipse cx="498.3" cy="681.5" rx="3.75" ry="3.9"/><ellipse cx="539.2" cy="683.4" rx="3.75" ry="3.9"/><ellipse cx="530.8" cy="688.3" rx="3.75" ry="3.9"/><ellipse cx="418.1" cy="693.0" rx="3.75" ry="3.9"/><ellipse cx="424.0" cy="698.1" rx="3.75" ry="3.9"/><ellipse cx="487.0" cy="705.0" rx="3.75" ry="3.9"/><ellipse cx="379.4" cy="650.6" rx="3.75" ry="3.9"/><ellipse cx="376.6" cy="638.5" rx="3.75" ry="3.9"/><ellipse cx="394.9" cy="645.4" rx="3.75" ry="3.9"/><ellipse cx="481.6" cy="653.2" rx="3.75" ry="3.9"/><ellipse cx="520.3" cy="659.4" rx="3.75" ry="3.9"/><ellipse cx="528.0" cy="659.4" rx="3.75" ry="3.9"/><ellipse cx="591.5" cy="581.5" rx="3.75" ry="3.9"/><ellipse cx="685.0" cy="581.2" rx="3.75" ry="3.9"/><ellipse cx="682.4" cy="596.7" rx="3.75" ry="3.9"/><ellipse cx="687.8" cy="607.5" rx="3.75" ry="3.9"/><ellipse cx="707.9" cy="610.9" rx="3.75" ry="3.9"/><ellipse cx="710.2" cy="607.8" rx="3.75" ry="3.9"/><ellipse cx="742.7" cy="607.8" rx="3.75" ry="3.9"/><ellipse cx="747.9" cy="600.1" rx="3.75" ry="3.9"/><ellipse cx="635.5" cy="610.3" rx="3.75" ry="3.9"/><ellipse cx="596.8" cy="612.9" rx="3.75" ry="3.9"/><ellipse cx="602.6" cy="616.5" rx="3.75" ry="3.9"/><ellipse cx="558.5" cy="614.5" rx="3.75" ry="3.9"/><ellipse cx="655.0" cy="618.7" rx="3.75" ry="3.9"/><ellipse cx="663.3" cy="613.4" rx="3.75" ry="3.9"/><ellipse cx="668.9" cy="620.2" rx="3.75" ry="3.9"/><ellipse cx="676.9" cy="620.7" rx="3.75" ry="3.9"/><ellipse cx="652.2" cy="625.3" rx="3.75" ry="3.9"/><ellipse cx="665.8" cy="627.6" rx="3.75" ry="3.9"/><ellipse cx="698.9" cy="624.9" rx="3.75" ry="3.9"/><ellipse cx="726.5" cy="622.2" rx="3.75" ry="3.9"/><ellipse cx="734.2" cy="621.8" rx="3.75" ry="3.9"/><ellipse cx="732.4" cy="626.1" rx="3.75" ry="3.9"/><ellipse cx="745.4" cy="627.6" rx="3.75" ry="3.9"/><ellipse cx="608.1" cy="628.4" rx="3.75" ry="3.9"/><ellipse cx="605.4" cy="634.1" rx="3.75" ry="3.9"/><ellipse cx="599.9" cy="638.5" rx="3.75" ry="3.9"/><ellipse cx="594.6" cy="641.9" rx="3.75" ry="3.9"/><ellipse cx="561.1" cy="637.2" rx="3.75" ry="3.9"/><ellipse cx="569.4" cy="640.8" rx="3.75" ry="3.9"/><ellipse cx="566.7" cy="648.1" rx="3.75" ry="3.9"/><ellipse cx="641.0" cy="638.8" rx="3.75" ry="3.9"/><ellipse cx="646.8" cy="643.9" rx="3.75" ry="3.9"/><ellipse cx="583.3" cy="657.1" rx="3.75" ry="3.9"/><ellipse cx="575.1" cy="662.0" rx="3.75" ry="3.9"/><ellipse cx="564.2" cy="666.3" rx="3.75" ry="3.9"/><ellipse cx="550.8" cy="670.2" rx="3.75" ry="3.9"/><ellipse cx="695.8" cy="655.2" rx="3.75" ry="3.9"/><ellipse cx="704.5" cy="657.1" rx="3.75" ry="3.9"/><ellipse cx="679.7" cy="657.8" rx="3.75" ry="3.9"/><ellipse cx="672.3" cy="664.0" rx="3.75" ry="3.9"/><ellipse cx="675.1" cy="662.9" rx="3.75" ry="3.9"/><ellipse cx="712.6" cy="667.9" rx="3.75" ry="3.9"/><ellipse cx="715.3" cy="649.6" rx="3.75" ry="3.9"/><ellipse cx="721.1" cy="649.0" rx="3.75" ry="3.9"/><ellipse cx="728.8" cy="643.9" rx="3.75" ry="3.9"/><ellipse cx="622.5" cy="666.7" rx="3.75" ry="3.9"/><ellipse cx="630.2" cy="672.2" rx="3.75" ry="3.9"/><ellipse cx="643.7" cy="672.5" rx="3.75" ry="3.9"/><ellipse cx="649.4" cy="669.4" rx="3.75" ry="3.9"/><ellipse cx="658.1" cy="671.3" rx="3.75" ry="3.9"/><ellipse cx="701.4" cy="674.1" rx="3.75" ry="3.9"/><ellipse cx="748.9" cy="675.6" rx="3.75" ry="3.9"/><ellipse cx="638.6" cy="684.6" rx="3.75" ry="3.9"/><ellipse cx="613.8" cy="693.0" rx="3.75" ry="3.9"/><ellipse cx="617.8" cy="689.9" rx="3.75" ry="3.9"/><ellipse cx="718.0" cy="688.3" rx="3.75" ry="3.9"/><ellipse cx="555.9" cy="698.9" rx="3.75" ry="3.9"/><ellipse cx="572.4" cy="695.0" rx="3.75" ry="3.9"/><ellipse cx="580.7" cy="697.6" rx="3.75" ry="3.9"/><ellipse cx="767.8" cy="607.2" rx="3.75" ry="3.9"/><ellipse cx="759.6" cy="610.3" rx="3.75" ry="3.9"/><ellipse cx="762.1" cy="618.0" rx="3.75" ry="3.9"/><ellipse cx="786.8" cy="624.9" rx="3.75" ry="3.9"/><ellipse cx="858.7" cy="619.1" rx="3.75" ry="3.9"/><ellipse cx="798.0" cy="632.6" rx="3.75" ry="3.9"/><ellipse cx="808.8" cy="632.6" rx="3.75" ry="3.9"/><ellipse cx="803.4" cy="640.3" rx="3.75" ry="3.9"/><ellipse cx="806.5" cy="638.2" rx="3.75" ry="3.9"/><ellipse cx="789.9" cy="639.7" rx="3.75" ry="3.9"/><ellipse cx="839.0" cy="630.0" rx="3.75" ry="3.9"/><ellipse cx="921.5" cy="633.1" rx="3.75" ry="3.9"/><ellipse cx="754.3" cy="649.3" rx="3.75" ry="3.9"/><ellipse cx="795.2" cy="647.0" rx="3.75" ry="3.9"/><ellipse cx="833.6" cy="646.2" rx="3.75" ry="3.9"/><ellipse cx="842.1" cy="642.8" rx="3.75" ry="3.9"/><ellipse cx="844.7" cy="647.0" rx="3.75" ry="3.9"/><ellipse cx="864.3" cy="649.0" rx="3.75" ry="3.9"/><ellipse cx="869.2" cy="651.2" rx="3.75" ry="3.9"/><ellipse cx="896.8" cy="647.5" rx="3.75" ry="3.9"/><ellipse cx="836.4" cy="654.7" rx="3.75" ry="3.9"/><ellipse cx="924.6" cy="654.7" rx="3.75" ry="3.9"/><ellipse cx="822.5" cy="655.5" rx="3.75" ry="3.9"/><ellipse cx="830.5" cy="659.8" rx="3.75" ry="3.9"/><ellipse cx="886.2" cy="657.8" rx="3.75" ry="3.9"/><ellipse cx="900.5" cy="659.8" rx="3.75" ry="3.9"/><ellipse cx="911.0" cy="658.9" rx="3.75" ry="3.9"/><ellipse cx="916.4" cy="658.9" rx="3.75" ry="3.9"/><ellipse cx="777.6" cy="659.8" rx="3.75" ry="3.9"/><ellipse cx="780.7" cy="664.5" rx="3.75" ry="3.9"/><ellipse cx="792.1" cy="662.0" rx="3.75" ry="3.9"/><ellipse cx="756.5" cy="665.6" rx="3.75" ry="3.9"/><ellipse cx="800.3" cy="666.0" rx="3.75" ry="3.9"/><ellipse cx="820.0" cy="667.1" rx="3.75" ry="3.9"/><ellipse cx="853.0" cy="670.2" rx="3.75" ry="3.9"/><ellipse cx="765.2" cy="671.3" rx="3.75" ry="3.9"/><ellipse cx="770.4" cy="670.7" rx="3.75" ry="3.9"/><ellipse cx="905.6" cy="666.7" rx="3.75" ry="3.9"/><ellipse cx="873.9" cy="660.9" rx="3.75" ry="3.9"/><ellipse cx="943.5" cy="667.9" rx="3.75" ry="3.9"/><ellipse cx="947.4" cy="666.3" rx="3.75" ry="3.9"/><ellipse cx="883.5" cy="680.6" rx="3.75" ry="3.9"/><ellipse cx="889.0" cy="685.2" rx="3.75" ry="3.9"/><ellipse cx="894.3" cy="678.4" rx="3.75" ry="3.9"/><ellipse cx="907.9" cy="678.4" rx="3.75" ry="3.9"/><ellipse cx="825.6" cy="688.3" rx="3.75" ry="3.9"/><ellipse cx="828.6" cy="687.2" rx="3.75" ry="3.9"/><ellipse cx="847.2" cy="689.3" rx="3.75" ry="3.9"/><ellipse cx="850.3" cy="692.4" rx="3.75" ry="3.9"/><ellipse cx="861.2" cy="686.2" rx="3.75" ry="3.9"/><ellipse cx="919.1" cy="688.3" rx="3.75" ry="3.9"/><ellipse cx="927.3" cy="689.6" rx="3.75" ry="3.9"/><ellipse cx="932.7" cy="691.4" rx="3.75" ry="3.9"/><ellipse cx="940.7" cy="693.4" rx="3.75" ry="3.9"/><ellipse cx="811.6" cy="701.2" rx="3.75" ry="3.9"/><ellipse cx="855.6" cy="701.2" rx="3.75" ry="3.9"/><ellipse cx="913.3" cy="705.4" rx="3.75" ry="3.9"/><ellipse cx="935.5" cy="709.4" rx="3.75" ry="3.9"/><ellipse cx="773.5" cy="650.6" rx="3.75" ry="3.9"/><ellipse cx="790.6" cy="653.6" rx="3.75" ry="3.9"/><ellipse cx="1040.1" cy="605.5" rx="3.75" ry="3.9"/><ellipse cx="990.6" cy="624.9" rx="3.75" ry="3.9"/><ellipse cx="993.0" cy="634.6" rx="3.75" ry="3.9"/><ellipse cx="996.1" cy="649.6" rx="3.75" ry="3.9"/><ellipse cx="971.4" cy="652.3" rx="3.75" ry="3.9"/><ellipse cx="987.9" cy="656.6" rx="3.75" ry="3.9"/><ellipse cx="978.6" cy="658.9" rx="3.75" ry="3.9"/><ellipse cx="1009.6" cy="657.8" rx="3.75" ry="3.9"/><ellipse cx="1020.4" cy="659.4" rx="3.75" ry="3.9"/><ellipse cx="1034.4" cy="657.8" rx="3.75" ry="3.9"/><ellipse cx="1050.9" cy="641.4" rx="3.75" ry="3.9"/><ellipse cx="1047.8" cy="647.6" rx="3.75" ry="3.9"/><ellipse cx="1097.8" cy="647.3" rx="3.75" ry="3.9"/><ellipse cx="1111.0" cy="635.2" rx="3.75" ry="3.9"/><ellipse cx="1108.7" cy="639.3" rx="3.75" ry="3.9"/><ellipse cx="1116.9" cy="650.1" rx="3.75" ry="3.9"/><ellipse cx="1125.3" cy="655.0" rx="3.75" ry="3.9"/><ellipse cx="1136.6" cy="627.2" rx="3.75" ry="3.9"/><ellipse cx="1144.8" cy="650.1" rx="3.75" ry="3.9"/><ellipse cx="1149.7" cy="635.7" rx="3.75" ry="3.9"/><ellipse cx="1067.4" cy="660.0" rx="3.75" ry="3.9"/><ellipse cx="982.4" cy="681.8" rx="3.75" ry="3.9"/><ellipse cx="984.9" cy="689.8" rx="3.75" ry="3.9"/><ellipse cx="1001.4" cy="685.4" rx="3.75" ry="3.9"/><ellipse cx="965.9" cy="695.8" rx="3.75" ry="3.9"/><ellipse cx="976.7" cy="701.7" rx="3.75" ry="3.9"/><ellipse cx="1026.2" cy="686.7" rx="3.75" ry="3.9"/><ellipse cx="1029.4" cy="689.2" rx="3.75" ry="3.9"/><ellipse cx="1012.5" cy="694.5" rx="3.75" ry="3.9"/><ellipse cx="1015.0" cy="698.7" rx="3.75" ry="3.9"/><ellipse cx="1006.9" cy="701.7" rx="3.75" ry="3.9"/><ellipse cx="1072.5" cy="689.8" rx="3.75" ry="3.9"/><ellipse cx="1053.9" cy="700.6" rx="3.75" ry="3.9"/><ellipse cx="1070.0" cy="702.5" rx="3.75" ry="3.9"/><ellipse cx="1086.5" cy="697.1" rx="3.75" ry="3.9"/><ellipse cx="1084.0" cy="707.2" rx="3.75" ry="3.9"/><ellipse cx="1081.4" cy="711.4" rx="3.75" ry="3.9"/><ellipse cx="1103.0" cy="677.1" rx="3.75" ry="3.9"/><ellipse cx="1130.6" cy="684.8" rx="3.75" ry="3.9"/><ellipse cx="1139.0" cy="691.1" rx="3.75" ry="3.9"/><ellipse cx="1148.7" cy="683.5" rx="3.75" ry="3.9"/><ellipse cx="951.0" cy="714.9" rx="3.75" ry="3.9"/><ellipse cx="1017.9" cy="674.6" rx="3.75" ry="3.9"/><ellipse cx="1022.1" cy="662.5" rx="3.75" ry="3.9"/><ellipse cx="969.0" cy="675.9" rx="3.75" ry="3.9"/><ellipse cx="1075.7" cy="672.1" rx="3.75" ry="3.9"/><ellipse cx="627.5" cy="722.5" rx="3.75" ry="3.9"/><ellipse cx="814.4" cy="713.0" rx="3.75" ry="3.9"/><ellipse cx="891.5" cy="721.3" rx="3.75" ry="3.9"/><ellipse cx="1196.8" cy="621.3" rx="3.75" ry="3.9"/><ellipse cx="1213.2" cy="640.8" rx="3.75" ry="3.9"/><ellipse cx="1169.4" cy="649.2" rx="3.75" ry="3.9"/><ellipse cx="1175.5" cy="652.3" rx="3.75" ry="3.9"/><ellipse cx="1180.7" cy="651.6" rx="3.75" ry="3.9"/><ellipse cx="1185.9" cy="647.6" rx="3.75" ry="3.9"/><ellipse cx="1254.5" cy="630.3" rx="3.75" ry="3.9"/><ellipse cx="1260.2" cy="629.0" rx="3.75" ry="3.9"/><ellipse cx="1285.0" cy="639.3" rx="3.75" ry="3.9"/><ellipse cx="1295.8" cy="638.8" rx="3.75" ry="3.9"/><ellipse cx="1304.0" cy="646.1" rx="3.75" ry="3.9"/><ellipse cx="1326.2" cy="629.5" rx="3.75" ry="3.9"/><ellipse cx="1323.4" cy="642.7" rx="3.75" ry="3.9"/><ellipse cx="1262.7" cy="652.3" rx="3.75" ry="3.9"/><ellipse cx="1279.3" cy="651.2" rx="3.75" ry="3.9"/><ellipse cx="1232.4" cy="657.4" rx="3.75" ry="3.9"/><ellipse cx="1331.4" cy="656.6" rx="3.75" ry="3.9"/><ellipse cx="1158.1" cy="658.9" rx="3.75" ry="3.9"/><ellipse cx="1202.3" cy="659.7" rx="3.75" ry="3.9"/><ellipse cx="1349.4" cy="658.5" rx="3.75" ry="3.9"/><ellipse cx="1155.7" cy="684.4" rx="3.75" ry="3.9"/><ellipse cx="1171.8" cy="686.4" rx="3.75" ry="3.9"/><ellipse cx="1205.2" cy="696.2" rx="3.75" ry="3.9"/><ellipse cx="1210.3" cy="687.9" rx="3.75" ry="3.9"/><ellipse cx="1216.0" cy="683.5" rx="3.75" ry="3.9"/><ellipse cx="1224.3" cy="694.0" rx="3.75" ry="3.9"/><ellipse cx="1226.8" cy="683.5" rx="3.75" ry="3.9"/><ellipse cx="1230.6" cy="681.0" rx="3.75" ry="3.9"/><ellipse cx="1234.8" cy="693.3" rx="3.75" ry="3.9"/><ellipse cx="1241.2" cy="689.2" rx="3.75" ry="3.9"/><ellipse cx="1244.2" cy="692.0" rx="3.75" ry="3.9"/><ellipse cx="1257.3" cy="680.6" rx="3.75" ry="3.9"/><ellipse cx="1265.8" cy="689.8" rx="3.75" ry="3.9"/><ellipse cx="1268.3" cy="684.1" rx="3.75" ry="3.9"/><ellipse cx="1273.4" cy="688.6" rx="3.75" ry="3.9"/><ellipse cx="1271.3" cy="692.0" rx="3.75" ry="3.9"/><ellipse cx="1282.7" cy="691.1" rx="3.75" ry="3.9"/><ellipse cx="1287.8" cy="691.7" rx="3.75" ry="3.9"/><ellipse cx="1290.7" cy="696.2" rx="3.75" ry="3.9"/><ellipse cx="1298.3" cy="697.8" rx="3.75" ry="3.9"/><ellipse cx="1293.2" cy="705.5" rx="3.75" ry="3.9"/><ellipse cx="1301.1" cy="714.3" rx="3.75" ry="3.9"/><ellipse cx="1276.3" cy="663.8" rx="3.75" ry="3.9"/><ellipse cx="1307.2" cy="663.6" rx="3.75" ry="3.9"/><ellipse cx="1310.6" cy="667.0" rx="3.75" ry="3.9"/><ellipse cx="1312.3" cy="686.7" rx="3.75" ry="3.9"/><ellipse cx="1320.4" cy="687.7" rx="3.75" ry="3.9"/><ellipse cx="1317.6" cy="696.8" rx="3.75" ry="3.9"/><ellipse cx="1314.8" cy="681.0" rx="3.75" ry="3.9"/><ellipse cx="1334.4" cy="697.8" rx="3.75" ry="3.9"/><ellipse cx="1339.8" cy="691.5" rx="3.75" ry="3.9"/><ellipse cx="1343.7" cy="681.3" rx="3.75" ry="3.9"/><ellipse cx="1346.2" cy="679.3" rx="3.75" ry="3.9"/><ellipse cx="1347.8" cy="702.2" rx="3.75" ry="3.9"/><ellipse cx="1238.3" cy="667.0" rx="3.75" ry="3.9"/><ellipse cx="1247.1" cy="667.0" rx="3.75" ry="3.9"/><ellipse cx="1221.1" cy="669.5" rx="3.75" ry="3.9"/><ellipse cx="1372.9" cy="617.9" rx="3.75" ry="3.9"/><ellipse cx="1359.0" cy="638.8" rx="3.75" ry="3.9"/><ellipse cx="1367.3" cy="647.3" rx="3.75" ry="3.9"/><ellipse cx="1397.7" cy="634.1" rx="3.75" ry="3.9"/><ellipse cx="1433.3" cy="630.6" rx="3.75" ry="3.9"/><ellipse cx="1468.9" cy="626.9" rx="3.75" ry="3.9"/><ellipse cx="1502.0" cy="626.4" rx="3.75" ry="3.9"/><ellipse cx="1422.5" cy="643.0" rx="3.75" ry="3.9"/><ellipse cx="1408.5" cy="647.0" rx="3.75" ry="3.9"/><ellipse cx="1411.6" cy="653.2" rx="3.75" ry="3.9"/><ellipse cx="1427.7" cy="652.7" rx="3.75" ry="3.9"/><ellipse cx="1474.6" cy="642.7" rx="3.75" ry="3.9"/><ellipse cx="1480.0" cy="640.8" rx="3.75" ry="3.9"/><ellipse cx="1491.2" cy="645.0" rx="3.75" ry="3.9"/><ellipse cx="1524.2" cy="641.1" rx="3.75" ry="3.9"/><ellipse cx="1353.4" cy="656.3" rx="3.75" ry="3.9"/><ellipse cx="1392.1" cy="657.4" rx="3.75" ry="3.9"/><ellipse cx="1413.8" cy="658.5" rx="3.75" ry="3.9"/><ellipse cx="1442.6" cy="659.4" rx="3.75" ry="3.9"/><ellipse cx="1447.2" cy="659.4" rx="3.75" ry="3.9"/><ellipse cx="1460.2" cy="657.8" rx="3.75" ry="3.9"/><ellipse cx="1466.4" cy="657.4" rx="3.75" ry="3.9"/><ellipse cx="1505.1" cy="658.1" rx="3.75" ry="3.9"/><ellipse cx="1510.7" cy="657.8" rx="3.75" ry="3.9"/><ellipse cx="1362.1" cy="690.2" rx="3.75" ry="3.9"/><ellipse cx="1356.1" cy="698.3" rx="3.75" ry="3.9"/><ellipse cx="1381.1" cy="678.4" rx="3.75" ry="3.9"/><ellipse cx="1386.6" cy="681.8" rx="3.75" ry="3.9"/><ellipse cx="1394.7" cy="678.8" rx="3.75" ry="3.9"/><ellipse cx="1405.9" cy="687.3" rx="3.75" ry="3.9"/><ellipse cx="1400.2" cy="695.3" rx="3.75" ry="3.9"/><ellipse cx="1403.1" cy="697.8" rx="3.75" ry="3.9"/><ellipse cx="1416.7" cy="681.0" rx="3.75" ry="3.9"/><ellipse cx="1424.9" cy="683.5" rx="3.75" ry="3.9"/><ellipse cx="1430.6" cy="687.3" rx="3.75" ry="3.9"/><ellipse cx="1419.6" cy="693.7" rx="3.75" ry="3.9"/><ellipse cx="1438.6" cy="676.3" rx="3.75" ry="3.9"/><ellipse cx="1455.1" cy="680.6" rx="3.75" ry="3.9"/><ellipse cx="1450.1" cy="689.8" rx="3.75" ry="3.9"/><ellipse cx="1444.2" cy="700.4" rx="3.75" ry="3.9"/><ellipse cx="1471.3" cy="686.9" rx="3.75" ry="3.9"/><ellipse cx="1477.2" cy="686.4" rx="3.75" ry="3.9"/><ellipse cx="1485.6" cy="683.1" rx="3.75" ry="3.9"/><ellipse cx="1497.0" cy="685.4" rx="3.75" ry="3.9"/><ellipse cx="1499.6" cy="687.3" rx="3.75" ry="3.9"/><ellipse cx="1512.8" cy="688.2" rx="3.75" ry="3.9"/><ellipse cx="1493.7" cy="703.2" rx="3.75" ry="3.9"/><ellipse cx="1482.7" cy="711.8" rx="3.75" ry="3.9"/><ellipse cx="1507.2" cy="711.0" rx="3.75" ry="3.9"/><ellipse cx="1515.7" cy="703.8" rx="3.75" ry="3.9"/><ellipse cx="1518.6" cy="708.3" rx="3.75" ry="3.9"/><ellipse cx="1526.3" cy="677.8" rx="3.75" ry="3.9"/><ellipse cx="1519.5" cy="681.0" rx="3.75" ry="3.9"/><ellipse cx="1488.2" cy="665.1" rx="3.75" ry="3.9"/><ellipse cx="1530.3" cy="670.2" rx="3.75" ry="3.9"/><ellipse cx="954.4" cy="663.0" rx="3.75" ry="3.9"/><ellipse cx="959.6" cy="663.9" rx="3.75" ry="3.9"/><ellipse cx="157.2" cy="615.8" rx="3.75" ry="3.9"/><ellipse cx="160.0" cy="607.9" rx="3.75" ry="3.9"/><ellipse cx="162.8" cy="624.8" rx="3.75" ry="3.9"/><ellipse cx="165.5" cy="636.7" rx="3.75" ry="3.9"/><ellipse cx="176.5" cy="660.1" rx="3.75" ry="3.9"/><ellipse cx="190.2" cy="662.3" rx="3.75" ry="3.9"/><ellipse cx="195.8" cy="661.3" rx="3.75" ry="3.9"/><ellipse cx="201.2" cy="655.3" rx="3.75" ry="3.9"/><ellipse cx="209.5" cy="655.2" rx="3.75" ry="3.9"/><ellipse cx="220.5" cy="649.7" rx="3.75" ry="3.9"/><ellipse cx="226.0" cy="650.2" rx="3.75" ry="3.9"/><ellipse cx="228.8" cy="648.2" rx="3.75" ry="3.9"/><ellipse cx="237.0" cy="647.5" rx="3.75" ry="3.9"/><ellipse cx="239.8" cy="647.7" rx="3.75" ry="3.9"/><ellipse cx="245.2" cy="650.5" rx="3.75" ry="3.9"/><ellipse cx="248.0" cy="649.4" rx="3.75" ry="3.9"/><ellipse cx="250.8" cy="650.7" rx="3.75" ry="3.9"/><ellipse cx="261.8" cy="652.1" rx="3.75" ry="3.9"/><ellipse cx="264.5" cy="654.7" rx="3.75" ry="3.9"/><ellipse cx="272.8" cy="661.0" rx="3.75" ry="3.9"/><ellipse cx="281.0" cy="655.6" rx="3.75" ry="3.9"/><ellipse cx="283.8" cy="653.5" rx="3.75" ry="3.9"/><ellipse cx="316.8" cy="638.4" rx="3.75" ry="3.9"/><ellipse cx="325.0" cy="626.3" rx="3.75" ry="3.9"/><ellipse cx="327.8" cy="628.9" rx="3.75" ry="3.9"/><ellipse cx="336.0" cy="626.1" rx="3.75" ry="3.9"/><ellipse cx="344.2" cy="618.2" rx="3.75" ry="3.9"/><ellipse cx="347.0" cy="617.2" rx="3.75" ry="3.9"/><ellipse cx="349.8" cy="619.2" rx="3.75" ry="3.9"/><ellipse cx="355.2" cy="621.3" rx="3.75" ry="3.9"/><ellipse cx="358.0" cy="620.3" rx="3.75" ry="3.9"/><ellipse cx="369.0" cy="629.5" rx="3.75" ry="3.9"/><ellipse cx="371.8" cy="635.7" rx="3.75" ry="3.9"/><ellipse cx="382.8" cy="638.9" rx="3.75" ry="3.9"/><ellipse cx="388.2" cy="641.5" rx="3.75" ry="3.9"/><ellipse cx="391.0" cy="641.6" rx="3.75" ry="3.9"/><ellipse cx="396.5" cy="651.8" rx="3.75" ry="3.9"/><ellipse cx="399.2" cy="653.9" rx="3.75" ry="3.9"/><ellipse cx="402.0" cy="651.5" rx="3.75" ry="3.9"/><ellipse cx="407.5" cy="659.5" rx="3.75" ry="3.9"/><ellipse cx="410.2" cy="653.3" rx="3.75" ry="3.9"/><ellipse cx="424.0" cy="651.8" rx="3.75" ry="3.9"/><ellipse cx="435.0" cy="656.0" rx="3.75" ry="3.9"/><ellipse cx="440.5" cy="650.5" rx="3.75" ry="3.9"/><ellipse cx="448.8" cy="647.3" rx="3.75" ry="3.9"/><ellipse cx="454.2" cy="649.3" rx="3.75" ry="3.9"/><ellipse cx="459.8" cy="647.7" rx="3.75" ry="3.9"/><ellipse cx="465.2" cy="654.9" rx="3.75" ry="3.9"/><ellipse cx="468.0" cy="657.8" rx="3.75" ry="3.9"/><ellipse cx="470.8" cy="657.3" rx="3.75" ry="3.9"/><ellipse cx="476.2" cy="656.0" rx="3.75" ry="3.9"/><ellipse cx="490.0" cy="651.8" rx="3.75" ry="3.9"/><ellipse cx="501.0" cy="654.5" rx="3.75" ry="3.9"/><ellipse cx="512.0" cy="655.5" rx="3.75" ry="3.9"/><ellipse cx="517.5" cy="656.5" rx="3.75" ry="3.9"/><ellipse cx="528.5" cy="651.2" rx="3.75" ry="3.9"/><ellipse cx="531.2" cy="654.2" rx="3.75" ry="3.9"/><ellipse cx="542.2" cy="658.8" rx="3.75" ry="3.9"/><ellipse cx="553.2" cy="665.5" rx="3.75" ry="3.9"/><ellipse cx="564.2" cy="652.3" rx="3.75" ry="3.9"/><ellipse cx="572.5" cy="652.0" rx="3.75" ry="3.9"/><ellipse cx="578.0" cy="647.7" rx="3.75" ry="3.9"/><ellipse cx="586.2" cy="641.8" rx="3.75" ry="3.9"/><ellipse cx="597.2" cy="653.1" rx="3.75" ry="3.9"/><ellipse cx="602.8" cy="653.7" rx="3.75" ry="3.9"/><ellipse cx="619.2" cy="653.7" rx="3.75" ry="3.9"/><ellipse cx="622.0" cy="659.4" rx="3.75" ry="3.9"/><ellipse cx="624.8" cy="659.8" rx="3.75" ry="3.9"/><ellipse cx="627.5" cy="660.2" rx="3.75" ry="3.9"/><ellipse cx="630.2" cy="657.4" rx="3.75" ry="3.9"/><ellipse cx="635.8" cy="659.0" rx="3.75" ry="3.9"/><ellipse cx="644.0" cy="653.3" rx="3.75" ry="3.9"/><ellipse cx="646.8" cy="651.4" rx="3.75" ry="3.9"/><ellipse cx="649.5" cy="646.0" rx="3.75" ry="3.9"/><ellipse cx="663.2" cy="638.4" rx="3.75" ry="3.9"/><ellipse cx="666.0" cy="638.9" rx="3.75" ry="3.9"/><ellipse cx="677.0" cy="631.4" rx="3.75" ry="3.9"/><ellipse cx="679.8" cy="631.4" rx="3.75" ry="3.9"/><ellipse cx="682.5" cy="629.4" rx="3.75" ry="3.9"/><ellipse cx="699.0" cy="639.1" rx="3.75" ry="3.9"/><ellipse cx="701.8" cy="634.6" rx="3.75" ry="3.9"/><ellipse cx="707.2" cy="637.5" rx="3.75" ry="3.9"/><ellipse cx="718.2" cy="641.0" rx="3.75" ry="3.9"/><ellipse cx="721.0" cy="644.3" rx="3.75" ry="3.9"/><ellipse cx="726.5" cy="635.9" rx="3.75" ry="3.9"/><ellipse cx="729.2" cy="637.5" rx="3.75" ry="3.9"/><ellipse cx="740.2" cy="637.4" rx="3.75" ry="3.9"/><ellipse cx="751.2" cy="634.6" rx="3.75" ry="3.9"/><ellipse cx="762.2" cy="641.3" rx="3.75" ry="3.9"/><ellipse cx="767.8" cy="641.5" rx="3.75" ry="3.9"/><ellipse cx="770.5" cy="641.6" rx="3.75" ry="3.9"/><ellipse cx="776.0" cy="645.2" rx="3.75" ry="3.9"/><ellipse cx="778.8" cy="647.6" rx="3.75" ry="3.9"/><ellipse cx="781.5" cy="646.6" rx="3.75" ry="3.9"/><ellipse cx="784.2" cy="641.1" rx="3.75" ry="3.9"/><ellipse cx="789.8" cy="654.9" rx="3.75" ry="3.9"/><ellipse cx="798.0" cy="656.4" rx="3.75" ry="3.9"/><ellipse cx="800.8" cy="660.4" rx="3.75" ry="3.9"/><ellipse cx="811.8" cy="660.3" rx="3.75" ry="3.9"/><ellipse cx="820.0" cy="655.9" rx="3.75" ry="3.9"/><ellipse cx="822.8" cy="660.0" rx="3.75" ry="3.9"/><ellipse cx="828.2" cy="665.2" rx="3.75" ry="3.9"/><ellipse cx="831.0" cy="663.9" rx="3.75" ry="3.9"/><ellipse cx="833.8" cy="664.7" rx="3.75" ry="3.9"/><ellipse cx="839.2" cy="662.7" rx="3.75" ry="3.9"/><ellipse cx="844.8" cy="664.9" rx="3.75" ry="3.9"/><ellipse cx="847.5" cy="664.9" rx="3.75" ry="3.9"/><ellipse cx="850.2" cy="663.8" rx="3.75" ry="3.9"/><ellipse cx="855.8" cy="659.6" rx="3.75" ry="3.9"/><ellipse cx="858.5" cy="658.2" rx="3.75" ry="3.9"/><ellipse cx="861.2" cy="660.6" rx="3.75" ry="3.9"/><ellipse cx="872.2" cy="665.0" rx="3.75" ry="3.9"/><ellipse cx="877.8" cy="666.0" rx="3.75" ry="3.9"/><ellipse cx="880.5" cy="667.3" rx="3.75" ry="3.9"/><ellipse cx="883.2" cy="666.6" rx="3.75" ry="3.9"/><ellipse cx="886.0" cy="662.4" rx="3.75" ry="3.9"/><ellipse cx="888.8" cy="668.4" rx="3.75" ry="3.9"/><ellipse cx="894.2" cy="667.3" rx="3.75" ry="3.9"/><ellipse cx="899.8" cy="669.8" rx="3.75" ry="3.9"/><ellipse cx="902.5" cy="668.2" rx="3.75" ry="3.9"/><ellipse cx="910.8" cy="672.6" rx="3.75" ry="3.9"/><ellipse cx="913.5" cy="677.0" rx="3.75" ry="3.9"/><ellipse cx="919.0" cy="672.7" rx="3.75" ry="3.9"/><ellipse cx="932.8" cy="675.0" rx="3.75" ry="3.9"/><ellipse cx="938.2" cy="679.3" rx="3.75" ry="3.9"/><ellipse cx="941.0" cy="679.9" rx="3.75" ry="3.9"/><ellipse cx="943.8" cy="679.7" rx="3.75" ry="3.9"/><ellipse cx="952.0" cy="682.8" rx="3.75" ry="3.9"/><ellipse cx="960.2" cy="674.5" rx="3.75" ry="3.9"/><ellipse cx="965.8" cy="671.4" rx="3.75" ry="3.9"/><ellipse cx="968.5" cy="671.7" rx="3.75" ry="3.9"/><ellipse cx="971.2" cy="669.2" rx="3.75" ry="3.9"/><ellipse cx="974.0" cy="668.1" rx="3.75" ry="3.9"/><ellipse cx="976.8" cy="668.8" rx="3.75" ry="3.9"/><ellipse cx="985.0" cy="669.5" rx="3.75" ry="3.9"/><ellipse cx="987.8" cy="670.4" rx="3.75" ry="3.9"/><ellipse cx="990.5" cy="671.8" rx="3.75" ry="3.9"/><ellipse cx="1007.0" cy="671.8" rx="3.75" ry="3.9"/><ellipse cx="1009.8" cy="666.3" rx="3.75" ry="3.9"/><ellipse cx="1012.5" cy="666.9" rx="3.75" ry="3.9"/><ellipse cx="1018.0" cy="666.6" rx="3.75" ry="3.9"/><ellipse cx="1023.5" cy="665.2" rx="3.75" ry="3.9"/><ellipse cx="1037.2" cy="671.6" rx="3.75" ry="3.9"/><ellipse cx="1042.8" cy="664.8" rx="3.75" ry="3.9"/><ellipse cx="1051.0" cy="665.6" rx="3.75" ry="3.9"/><ellipse cx="1053.8" cy="666.4" rx="3.75" ry="3.9"/><ellipse cx="1062.0" cy="672.0" rx="3.75" ry="3.9"/><ellipse cx="1067.5" cy="676.9" rx="3.75" ry="3.9"/><ellipse cx="1073.0" cy="675.7" rx="3.75" ry="3.9"/><ellipse cx="1081.2" cy="679.5" rx="3.75" ry="3.9"/><ellipse cx="1086.8" cy="670.9" rx="3.75" ry="3.9"/><ellipse cx="1089.5" cy="670.0" rx="3.75" ry="3.9"/><ellipse cx="1106.0" cy="665.8" rx="3.75" ry="3.9"/><ellipse cx="1114.2" cy="660.7" rx="3.75" ry="3.9"/><ellipse cx="1119.8" cy="660.4" rx="3.75" ry="3.9"/><ellipse cx="1122.5" cy="659.1" rx="3.75" ry="3.9"/><ellipse cx="1128.0" cy="657.9" rx="3.75" ry="3.9"/><ellipse cx="1150.0" cy="664.1" rx="3.75" ry="3.9"/><ellipse cx="1152.8" cy="663.5" rx="3.75" ry="3.9"/><ellipse cx="1155.5" cy="661.4" rx="3.75" ry="3.9"/><ellipse cx="1163.8" cy="661.7" rx="3.75" ry="3.9"/><ellipse cx="1166.5" cy="664.8" rx="3.75" ry="3.9"/><ellipse cx="1169.2" cy="660.3" rx="3.75" ry="3.9"/><ellipse cx="1174.8" cy="663.3" rx="3.75" ry="3.9"/><ellipse cx="1183.0" cy="664.3" rx="3.75" ry="3.9"/><ellipse cx="1188.5" cy="663.8" rx="3.75" ry="3.9"/><ellipse cx="1191.2" cy="665.5" rx="3.75" ry="3.9"/><ellipse cx="1194.0" cy="665.8" rx="3.75" ry="3.9"/><ellipse cx="1196.8" cy="664.4" rx="3.75" ry="3.9"/><ellipse cx="1213.2" cy="671.2" rx="3.75" ry="3.9"/><ellipse cx="1227.0" cy="673.4" rx="3.75" ry="3.9"/><ellipse cx="1229.8" cy="674.5" rx="3.75" ry="3.9"/><ellipse cx="1232.5" cy="673.9" rx="3.75" ry="3.9"/><ellipse cx="1235.2" cy="670.7" rx="3.75" ry="3.9"/><ellipse cx="1240.8" cy="670.0" rx="3.75" ry="3.9"/><ellipse cx="1246.2" cy="673.4" rx="3.75" ry="3.9"/><ellipse cx="1249.0" cy="672.4" rx="3.75" ry="3.9"/><ellipse cx="1251.8" cy="667.5" rx="3.75" ry="3.9"/><ellipse cx="1257.2" cy="666.7" rx="3.75" ry="3.9"/><ellipse cx="1260.0" cy="669.6" rx="3.75" ry="3.9"/><ellipse cx="1265.5" cy="668.7" rx="3.75" ry="3.9"/><ellipse cx="1273.8" cy="669.8" rx="3.75" ry="3.9"/><ellipse cx="1276.5" cy="673.0" rx="3.75" ry="3.9"/><ellipse cx="1309.5" cy="675.3" rx="3.75" ry="3.9"/><ellipse cx="1312.2" cy="675.6" rx="3.75" ry="3.9"/><ellipse cx="1326.0" cy="675.3" rx="3.75" ry="3.9"/><ellipse cx="1334.2" cy="673.9" rx="3.75" ry="3.9"/><ellipse cx="1342.5" cy="670.7" rx="3.75" ry="3.9"/><ellipse cx="1348.0" cy="667.6" rx="3.75" ry="3.9"/><ellipse cx="1359.0" cy="668.6" rx="3.75" ry="3.9"/><ellipse cx="1361.8" cy="668.3" rx="3.75" ry="3.9"/><ellipse cx="1370.0" cy="667.3" rx="3.75" ry="3.9"/><ellipse cx="1372.8" cy="666.8" rx="3.75" ry="3.9"/><ellipse cx="1381.0" cy="667.8" rx="3.75" ry="3.9"/><ellipse cx="1386.5" cy="665.1" rx="3.75" ry="3.9"/><ellipse cx="1414.0" cy="667.3" rx="3.75" ry="3.9"/><ellipse cx="1419.5" cy="671.7" rx="3.75" ry="3.9"/><ellipse cx="1427.8" cy="669.4" rx="3.75" ry="3.9"/><ellipse cx="1430.5" cy="670.1" rx="3.75" ry="3.9"/><ellipse cx="1444.2" cy="667.6" rx="3.75" ry="3.9"/><ellipse cx="1449.8" cy="665.9" rx="3.75" ry="3.9"/><ellipse cx="1455.2" cy="664.4" rx="3.75" ry="3.9"/><ellipse cx="1466.2" cy="670.9" rx="3.75" ry="3.9"/><ellipse cx="1480.0" cy="664.6" rx="3.75" ry="3.9"/><ellipse cx="1482.8" cy="667.1" rx="3.75" ry="3.9"/><ellipse cx="1488.2" cy="667.0" rx="3.75" ry="3.9"/><ellipse cx="1496.5" cy="679.4" rx="3.75" ry="3.9"/><ellipse cx="1502.0" cy="675.3" rx="3.75" ry="3.9"/><ellipse cx="1507.5" cy="677.2" rx="3.75" ry="3.9"/><ellipse cx="1510.2" cy="674.7" rx="3.75" ry="3.9"/><ellipse cx="1521.2" cy="675.5" rx="3.75" ry="3.9"/><ellipse cx="1526.8" cy="665.5" rx="3.75" ry="3.9"/></g>
<path d="M156.3,622.1 L159.7,606.1 L162.6,624.4 L166.1,639.3 L170.6,651.9 L176.4,657.7 L182.1,658.8 L187.8,661.1 L192.4,664.5 L197.0,658.8 L201.6,654.2 L207.3,652.5 L213.1,650.8 L218.8,648.5 L224.5,647.3 L229.1,648.5 L233.7,649.6 L238.3,647.3 L242.9,647.3 L248.6,649.6 L253.2,651.9 L258.9,652.5 L264.7,654.2 L269.3,657.7 L273.9,660.0 L279.6,657.7 L284.2,655.4 L288.8,656.5 L294.5,658.8 L300.2,657.7 L306.0,654.2 L310.6,649.6 L314.0,642.8 L317.4,635.9 L322.0,630.1 L325.7,628.2 L331.5,624.7 L337.2,623.6 L342.9,620.1 L348.7,617.8 L354.4,620.1 L360.1,624.7 L365.9,630.5 L371.6,635.0 L377.3,638.5 L383.1,641.9 L388.8,644.2 L394.5,646.5 L399.1,651.1 L402.6,655.7 L407.2,658.0 L411.7,655.7 L417.5,654.5 L423.2,651.1 L427.8,650.0 L433.5,652.2 L439.3,654.5 L443.9,652.2 L448.4,648.8 L453.0,646.5 L458.8,647.7 L463.3,652.2 L467.9,655.7 L473.7,656.8 L479.4,656.8 L485.1,656.8 L490.9,654.5 L495.7,652.8 L501.5,653.9 L507.2,655.0 L512.9,656.2 L518.7,655.0 L524.4,653.9 L530.1,655.0 L535.9,653.9 L541.6,656.2 L547.3,658.5 L553.1,663.1 L558.8,659.6 L564.5,655.0 L570.3,651.6 L576.0,648.2 L581.7,644.7 L585.2,642.4 L588.6,645.9 L593.2,649.3 L598.9,651.6 L604.7,653.9 L610.4,650.5 L616.1,652.8 L620.7,657.3 L625.3,659.6 L631.1,660.8 L635.6,661.9 L639.1,658.5 L643.7,652.8 L648.3,650.5 L652.8,645.9 L657.4,641.3 L662.0,636.7 L665.7,635.9 L671.5,634.2 L677.2,634.7 L682.9,632.4 L687.5,634.7 L691.0,640.5 L696.7,639.3 L702.4,637.0 L708.2,637.0 L713.9,640.5 L719.6,641.6 L725.4,639.3 L731.1,638.2 L736.8,634.7 L742.6,635.9 L748.3,635.9 L754.0,638.2 L759.8,639.9 L765.5,641.6 L770.1,643.9 L774.7,647.3 L779.3,646.2 L783.9,643.9 L787.3,648.5 L790.7,653.1 L796.5,656.5 L802.2,657.7 L807.9,658.8 L813.7,657.7 L819.4,657.7 L824.0,658.8 L829.3,663.6 L833.2,665.7 L835.7,668.5 L841.5,662.8 L847.2,661.6 L852.9,660.5 L857.5,659.3 L863.3,662.8 L869.0,668.5 L874.7,665.0 L880.5,663.9 L886.2,665.0 L891.9,667.3 L897.7,668.5 L903.4,670.8 L908.0,674.2 L912.6,676.5 L917.2,675.4 L920.6,674.2 L925.2,677.7 L930.9,678.2 L936.7,677.7 L942.4,677.7 L947.0,676.5 L951.6,680.0 L956.1,678.8 L960.7,676.5 L965.3,674.2 L969.9,669.6 L975.6,667.3 L981.4,667.3 L987.1,668.5 L992.8,669.6 L998.6,670.8 L1005.7,668.5 L1011.5,668.5 L1017.2,669.6 L1022.9,668.5 L1028.7,669.1 L1034.4,669.6 L1040.1,668.5 L1045.9,666.2 L1051.6,668.5 L1057.3,669.6 L1063.1,671.9 L1068.8,675.4 L1074.5,676.5 L1079.1,677.7 L1084.9,674.2 L1090.6,669.6 L1096.3,668.5 L1102.1,667.3 L1107.8,665.0 L1112.4,661.6 L1118.1,660.5 L1123.9,659.3 L1128.4,660.5 L1134.2,661.6 L1139.9,662.8 L1145.6,663.9 L1151.4,662.8 L1157.1,660.5 L1162.8,661.6 L1168.6,661.6 L1175.7,662.8 L1181.5,663.9 L1187.2,666.2 L1192.9,667.3 L1198.7,667.3 L1204.4,665.0 L1210.1,668.5 L1215.9,670.8 L1221.6,671.9 L1227.3,675.4 L1233.1,673.1 L1238.8,669.6 L1244.5,669.6 L1250.3,670.8 L1256.0,669.6 L1261.7,670.2 L1267.5,670.8 L1273.2,670.8 L1278.9,672.5 L1284.7,673.1 L1289.3,675.4 L1293.9,677.7 L1298.4,675.4 L1301.9,671.9 L1307.6,671.9 L1313.3,674.2 L1319.1,674.2 L1324.8,673.1 L1330.6,674.2 L1336.3,674.2 L1340.0,670.8 L1342.0,671.9 L1345.1,669.5 L1350.2,668.3 L1356.5,670.8 L1362.9,670.8 L1369.2,664.4 L1375.6,664.4 L1380.6,668.3 L1387.0,668.3 L1393.3,669.5 L1399.7,669.5 L1406.0,669.5 L1412.4,668.3 L1418.7,668.3 L1425.1,670.8 L1431.4,669.5 L1437.8,668.3 L1442.9,667.0 L1449.2,665.7 L1455.6,665.7 L1460.6,667.0 L1467.0,668.3 L1473.3,669.5 L1479.7,667.0 L1486.0,667.0 L1491.1,672.1 L1496.2,675.9 L1502.5,675.9 L1508.9,675.9 L1515.2,676.5 L1520.3,677.1 L1524.1,670.8 L1526.7,664.4 L1529.2,668.9" fill="none" stroke="#77AC30" stroke-width="6.0" stroke-linejoin="round" stroke-linecap="round"/>
<g class="lbl"><text x="139.2" y="786.6" text-anchor="end">0.15</text><text x="139.2" y="703.0" text-anchor="end">0.20</text><text x="139.2" y="619.5" text-anchor="end">0.25</text><text x="139.2" y="535.9" text-anchor="end">0.30</text><text x="139.2" y="452.4" text-anchor="end">0.35</text><text x="139.2" y="368.8" text-anchor="end">0.40</text><text x="139.2" y="285.3" text-anchor="end">0.45</text><text x="139.2" y="201.7" text-anchor="end">0.50</text><text x="139.2" y="118.2" text-anchor="end">0.55</text><text x="139.2" y="34.6" text-anchor="end">0.60</text><text x="154.5" y="814.0" text-anchor="middle">0</text><text x="292.0" y="814.0" text-anchor="middle">50</text><text x="429.5" y="814.0" text-anchor="middle">100</text><text x="567.0" y="814.0" text-anchor="middle">150</text><text x="704.5" y="814.0" text-anchor="middle">200</text><text x="842.0" y="814.0" text-anchor="middle">250</text><text x="979.5" y="814.0" text-anchor="middle">300</text><text x="1117.0" y="814.0" text-anchor="middle">350</text><text x="1254.5" y="814.0" text-anchor="middle">400</text><text x="1392.0" y="814.0" text-anchor="middle">450</text><text x="1529.5" y="814.0" text-anchor="middle">500</text><text x="842.5" y="858.6" text-anchor="middle">Epoch</text><text transform="translate(46.7,401.4) rotate(-90)" text-anchor="middle">Importance</text></g>
<rect x="1415.0" y="6.1" width="116.0" height="130.0" fill="#fff" stroke="#000" stroke-width="1.6"/><path d="M1429.1,25.0 H1468.7" stroke="#0072BD" stroke-width="7.5"/><text class="lg" x="1471.0" y="33.8">FI<tspan class="sub" dy="4.1">L</tspan></text><path d="M1429.1,64.7 H1468.7" stroke="#EDB120" stroke-width="7.5"/><text class="lg" x="1471.0" y="76.7">FI<tspan class="sub" dy="4.1">M</tspan></text><path d="M1429.1,112.0 H1468.7" stroke="#77AC30" stroke-width="7.5"/><text class="lg" x="1471.0" y="119.9">FI<tspan class="sub" dy="4.1">H</tspan></text>
</svg>
</body></html>
